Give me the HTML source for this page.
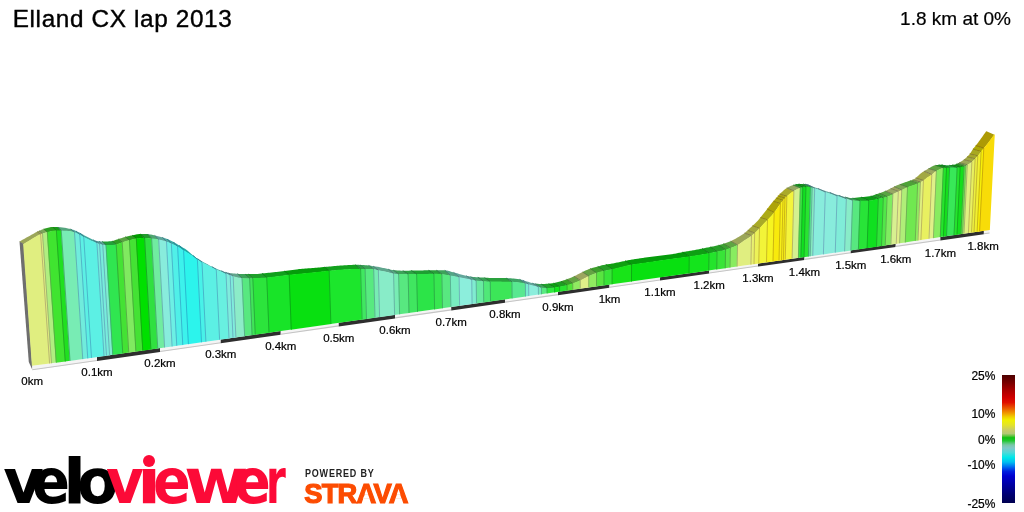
<!DOCTYPE html>
<html><head><meta charset="utf-8"><title>Elland CX lap 2013</title>
<style>
html,body{margin:0;padding:0;background:#fff;}
body{width:1024px;height:512px;position:relative;overflow:hidden;font-family:"Liberation Sans",sans-serif;color:#000;}
.prof{position:absolute;left:0;top:0;}
#title{position:absolute;left:12.7px;top:3.8px;font-size:24.3px;letter-spacing:0.65px;line-height:30px;white-space:nowrap;color:#000;-webkit-text-stroke:0.4px #000;}
#stat{position:absolute;right:13px;top:6.7px;font-size:19px;line-height:24px;white-space:nowrap;color:#000;-webkit-text-stroke:0.2px #000;}
#legend{position:absolute;left:1002px;top:375px;width:13px;height:128px;background:linear-gradient(to bottom,#4c0000 0.0%,#780000 5.9%,#a80000 11.7%,#d00000 17.6%,#e01000 21.5%,#e85000 25.4%,#f09000 29.3%,#f0d000 32.8%,#f0f000 35.2%,#e4e428 39.0%,#c8cc68 43.0%,#b4c874 45.7%,#60c440 47.6%,#10c010 49.0%,#20c830 51.4%,#50c870 53.0%,#78c8a8 54.7%,#80c8c8 57.0%,#50d8d8 60.5%,#00e8e8 64.3%,#00c0f0 68.0%,#0070f0 71.6%,#0020e0 75.2%,#0000d0 78.9%,#0000a0 86.2%,#000070 93.6%,#000050 100.0%);}
.lg{position:absolute;right:28.6px;font-size:12px;line-height:14px;white-space:nowrap;color:#000;-webkit-text-stroke:0.2px #000;}
#vv{position:absolute;left:0;top:446.3px;font-family:"DejaVu Sans",sans-serif;font-weight:bold;font-size:62px;line-height:72px;white-space:nowrap;color:#000;}
#vv span{display:inline-block;transform-origin:0 0;}
#pb{position:absolute;left:305.2px;top:466.5px;font-size:10px;line-height:14px;font-weight:bold;letter-spacing:0.9px;color:#222;white-space:nowrap;transform-origin:0 0;transform:scaleX(0.9);}
#st{position:absolute;left:304.3px;top:479.3px;font-size:27.3px;line-height:30px;font-weight:bold;letter-spacing:-0.8px;color:#fc4c02;white-space:nowrap;-webkit-text-stroke:1.2px #fc4c02;}
</style></head><body>
<svg class="prof" width="1024" height="512" viewBox="0 0 1024 512">
<g><polygon points="23.49,244.34 24.00,244.03 25.00,243.43 26.00,242.82 27.00,242.22 28.00,241.63 29.00,241.03 30.00,240.44 31.00,239.85 32.00,239.25 33.00,238.62 34.00,238.00 35.00,237.39 36.00,236.79 37.00,236.23 38.00,235.72 39.00,235.26 40.00,234.83 40.60,234.59 37.46,231.75 37.00,231.80 36.00,232.32 35.00,232.86 34.00,233.42 33.00,233.99 32.00,234.55 31.00,235.11 30.00,235.66 29.00,236.21 28.00,236.76 27.00,237.31 26.00,237.86 25.00,238.42 24.00,238.98 23.00,239.53 22.00,240.09 21.00,240.65 20.00,241.22 19.15,241.50" fill="#9ca659"/><polygon points="40.60,234.59 41.00,234.43 42.00,234.04 42.49,233.86 39.35,230.86 38.00,231.32 36.76,231.75" fill="#9ca659"/><polygon points="42.49,233.86 43.00,233.68 44.00,233.34 45.00,233.03 46.00,232.75 47.00,232.50 47.27,232.44 44.10,228.93 43.00,229.19 42.00,229.57 41.00,229.98 40.00,230.41 39.00,230.86 38.65,230.86" fill="#7ba659"/><polygon points="47.27,232.44 48.00,232.27 49.00,232.03 50.00,231.79 51.00,231.57 52.00,231.38 53.00,231.21 54.00,231.09 55.00,231.02 56.00,231.00 56.40,231.00 53.19,227.00 52.00,227.00 51.00,227.05 50.00,227.18 49.00,227.39 48.00,227.64 47.00,227.94 46.00,228.24 45.00,228.55 44.00,228.85 43.40,228.93" fill="#2c9f21"/><polygon points="56.40,231.00 57.00,231.00 58.00,231.00 59.00,231.00 60.00,231.00 61.00,231.00 61.28,231.00 58.04,227.01 57.00,227.00 56.00,227.00 55.00,227.00 54.00,227.00 53.00,227.00 52.49,227.00" fill="#169c16"/><polygon points="61.28,231.00 62.00,231.02 63.00,231.05 64.00,231.09 65.00,231.14 66.00,231.20 67.00,231.27 68.00,231.35 69.00,231.46 70.00,231.59 71.00,231.73 72.00,231.90 73.00,232.13 74.00,232.45 74.46,232.62 71.16,229.08 70.00,228.87 69.00,228.63 68.00,228.40 67.00,228.19 66.00,227.99 65.00,227.82 64.00,227.66 63.00,227.52 62.00,227.40 61.00,227.29 60.00,227.18 59.00,227.09 58.00,227.02 57.34,227.01" fill="#54a57d"/><polygon points="74.46,232.62 75.00,232.84 76.00,233.27 77.00,233.73 78.00,234.19 79.00,234.66 79.75,235.04 76.42,230.97 76.00,230.94 75.00,230.49 74.00,230.08 73.00,229.71 72.00,229.40 71.00,229.13 70.46,229.08" fill="#4ea59a"/><polygon points="79.75,235.04 80.00,235.18 81.00,235.73 82.00,236.31 83.00,236.88 83.74,237.29 80.39,232.91 80.00,232.89 79.00,232.37 78.00,231.88 77.00,231.41 75.72,230.97" fill="#40a89f"/><polygon points="83.74,237.29 84.00,237.44 85.00,237.96 86.00,238.48 87.00,238.99 88.00,239.50 89.00,239.99 90.00,240.46 91.00,240.91 92.00,241.34 93.00,241.76 94.00,242.17 95.00,242.56 96.00,242.94 96.92,243.27 93.51,239.78 93.00,239.70 92.00,239.20 91.00,238.71 90.00,238.25 89.00,237.77 88.00,237.26 87.00,236.73 86.00,236.20 85.00,235.66 84.00,235.13 83.00,234.58 82.00,234.01 81.00,233.44 79.69,232.91" fill="#40a89f"/><polygon points="96.92,243.27 97.00,243.30 98.00,243.66 99.00,244.02 99.54,244.20 96.11,240.85 95.00,240.60 94.00,240.18 92.81,239.78" fill="#54a59a"/><polygon points="99.54,244.20 100.00,244.36 101.00,244.66 102.00,244.90 102.76,245.07 99.32,241.28 98.00,241.20 97.00,241.10 96.00,240.92 95.41,240.85" fill="#54a59a"/><polygon points="102.76,245.07 103.00,245.12 104.00,245.32 105.00,245.46 106.00,245.50 106.01,245.50 102.56,241.40 102.00,241.40 101.00,241.39 100.00,241.34 99.00,241.28 98.62,241.28" fill="#59a591"/><polygon points="106.01,245.50 107.00,245.50 108.00,245.50 109.00,245.50 110.00,245.50 111.00,245.50 112.00,245.45 113.00,245.34 114.00,245.20 115.00,245.03 116.00,244.85 116.20,244.81 112.69,241.06 112.00,241.10 111.00,241.20 110.00,241.28 109.00,241.34 108.00,241.38 107.00,241.40 106.00,241.40 105.00,241.40 104.00,241.40 103.00,241.40 101.86,241.40" fill="#21a138"/><polygon points="116.20,244.81 117.00,244.60 118.00,244.26 119.00,243.87 120.00,243.46 121.00,243.06 122.00,242.70 122.21,242.63 118.67,239.07 118.00,239.18 117.00,239.50 116.00,239.86 115.00,240.25 114.00,240.62 113.00,240.92 111.99,241.06" fill="#2f9e24"/><polygon points="122.21,242.63 123.00,242.38 124.00,242.06 125.00,241.75 126.00,241.45 127.00,241.16 128.00,240.87 129.00,240.59 129.39,240.48 125.82,236.83 125.00,236.97 124.00,237.28 123.00,237.59 122.00,237.90 121.00,238.21 120.00,238.53 119.00,238.85 117.97,239.07" fill="#59a343"/><polygon points="129.39,240.48 130.00,240.31 131.00,240.04 132.00,239.80 133.00,239.56 134.00,239.32 135.00,239.10 136.00,238.92 136.31,238.88 132.70,235.33 132.00,235.40 131.00,235.58 130.00,235.75 129.00,235.94 128.00,236.16 127.00,236.40 126.00,236.68 125.12,236.83" fill="#2f9e24"/><polygon points="136.31,238.88 137.00,238.80 138.00,238.71 139.00,238.64 140.00,238.56 141.00,238.50 142.00,238.46 143.00,238.42 144.00,238.40 144.62,238.40 140.97,234.10 140.00,234.10 139.00,234.11 138.00,234.19 137.00,234.34 136.00,234.53 135.00,234.75 134.00,234.98 133.00,235.20 132.00,235.33" fill="#009c00"/><polygon points="144.62,238.40 145.00,238.40 146.00,238.43 147.00,238.48 148.00,238.54 149.00,238.62 150.00,238.71 151.00,238.81 151.64,238.87 147.97,234.12 147.00,234.10 146.00,234.10 145.00,234.10 144.00,234.10 143.00,234.10 142.00,234.10 141.00,234.10 140.27,234.10" fill="#219c2c"/><polygon points="151.64,238.87 152.00,238.90 153.00,239.00 154.00,239.12 155.00,239.26 156.00,239.41 157.00,239.58 158.00,239.75 158.70,239.88 154.99,235.43 154.00,235.29 153.00,235.07 152.00,234.84 151.00,234.61 150.00,234.41 149.00,234.25 148.00,234.14 147.27,234.12" fill="#4ea570"/><polygon points="158.70,239.88 159.00,239.94 160.00,240.15 161.00,240.38 162.00,240.63 163.00,240.89 164.00,241.17 165.00,241.47 166.00,241.78 166.47,241.94 162.72,237.36 162.00,237.25 161.00,236.97 160.00,236.69 159.00,236.43 158.00,236.18 157.00,235.95 156.00,235.72 155.00,235.50 154.29,235.43" fill="#5fa59a"/><polygon points="166.47,241.94 167.00,242.12 168.00,242.50 169.00,242.90 170.00,243.32 171.00,243.76 171.33,243.90 167.55,238.98 167.00,238.90 166.00,238.54 165.00,238.19 164.00,237.86 163.00,237.55 162.02,237.36" fill="#4ba89f"/><polygon points="171.33,243.90 172.00,244.20 173.00,244.65 174.00,245.12 175.00,245.61 176.00,246.11 177.00,246.63 177.61,246.95 173.80,242.02 173.00,241.77 172.00,241.23 171.00,240.70 170.00,240.19 169.00,239.72 168.00,239.30 166.85,238.98" fill="#38a8a2"/><polygon points="177.61,246.95 178.00,247.16 179.00,247.72 180.00,248.30 181.00,248.90 182.00,249.52 183.00,250.15 183.56,250.51 179.72,245.46 179.00,245.23 178.00,244.63 177.00,244.03 176.00,243.45 175.00,242.88 174.00,242.32 173.10,242.02" fill="#2aa9a5"/><polygon points="183.56,250.51 184.00,250.78 185.00,251.42 186.00,252.05 187.00,252.69 188.00,253.34 189.00,254.00 190.00,254.66 191.00,255.32 192.00,256.00 193.00,256.70 194.00,257.42 195.00,258.16 196.00,258.89 197.00,259.59 197.38,259.84 193.47,255.49 193.00,255.40 192.00,254.60 191.00,253.75 190.00,252.82 189.00,251.89 188.00,251.00 187.00,250.20 186.00,249.50 185.00,248.84 184.00,248.23 183.00,247.63 182.00,247.04 181.00,246.45 180.00,245.84 179.02,245.46" fill="#1eaaa5"/><polygon points="197.38,259.84 198.00,260.24 199.00,260.85 200.00,261.42 201.00,261.97 201.98,262.49 198.06,258.85 197.00,258.37 196.00,257.67 195.00,256.94 194.00,256.18 192.77,255.49" fill="#32a9a2"/><polygon points="201.98,262.49 202.00,262.50 203.00,263.02 204.00,263.54 205.00,264.06 206.00,264.58 207.00,265.10 208.00,265.61 209.00,266.12 210.00,266.62 211.00,267.13 212.00,267.63 213.00,268.14 214.00,268.64 215.00,269.13 216.00,269.62 216.26,269.75 212.27,266.67 211.00,266.19 210.00,265.67 209.00,265.13 208.00,264.59 207.00,264.05 206.00,263.51 205.00,262.97 204.00,262.43 203.00,261.90 202.00,261.37 201.00,260.82 200.00,260.26 199.00,259.67 198.00,259.04 197.36,258.85" fill="#40a89f"/><polygon points="216.26,269.75 217.00,270.10 218.00,270.57 219.00,271.04 220.00,271.50 221.00,271.95 222.00,272.39 223.00,272.80 224.00,273.19 225.00,273.55 226.00,273.89 226.00,273.90 221.96,270.85 221.00,270.61 220.00,270.21 219.00,269.81 218.00,269.40 217.00,269.00 216.00,268.59 215.00,268.15 214.00,267.69 213.00,267.21 212.00,266.71 211.57,266.67" fill="#48a89c"/><polygon points="226.00,273.90 227.00,274.23 228.00,274.57 229.00,274.92 230.00,275.29 230.13,275.34 226.06,272.28 225.00,272.06 224.00,271.73 223.00,271.38 222.00,271.00 221.26,270.85" fill="#59a59a"/><polygon points="230.13,275.34 231.00,275.70 232.00,276.11 233.00,276.51 233.13,276.56 229.05,272.98 228.00,272.85 227.00,272.62 226.00,272.36 225.36,272.28" fill="#59a59a"/><polygon points="233.13,276.56 234.00,276.85 235.00,277.13 236.00,277.39 237.00,277.64 238.00,277.88 239.00,278.08 240.00,278.26 241.00,278.40 242.00,278.50 242.04,278.50 237.91,273.80 237.00,273.75 236.00,273.68 235.00,273.60 234.00,273.53 233.00,273.46 232.00,273.37 231.00,273.27 230.00,273.16 229.00,273.03 228.35,272.98" fill="#62a58c"/><polygon points="242.04,278.50 243.00,278.57 244.00,278.64 245.00,278.70 246.00,278.75 247.00,278.78 248.00,278.80 249.00,278.79 249.65,278.77 245.49,274.10 245.00,274.10 244.00,274.10 243.00,274.10 242.00,274.10 241.00,274.08 240.00,274.01 239.00,273.93 238.00,273.84 237.21,273.80" fill="#3da259"/><polygon points="249.65,278.77 250.00,278.76 251.00,278.71 252.00,278.65 252.83,278.59 248.66,274.10 248.00,274.10 247.00,274.10 246.00,274.10 244.79,274.10" fill="#2c9f3d"/><polygon points="252.83,278.59 253.00,278.58 254.00,278.52 255.00,278.48 256.00,278.44 257.00,278.40 258.00,278.36 259.00,278.33 260.00,278.29 261.00,278.26 262.00,278.22 263.00,278.18 264.00,278.13 265.00,278.08 266.00,278.02 266.74,277.98 262.50,273.46 262.00,273.48 261.00,273.60 260.00,273.71 259.00,273.82 258.00,273.92 257.00,274.00 256.00,274.06 255.00,274.10 254.00,274.10 253.00,274.10 252.00,274.10 251.00,274.10 250.00,274.10 249.00,274.10 247.96,274.10" fill="#1e9f2a"/><polygon points="266.74,277.98 267.00,277.96 268.00,277.87 269.00,277.77 270.00,277.65 271.00,277.52 272.00,277.39 273.00,277.25 274.00,277.11 275.00,276.96 276.00,276.83 277.00,276.70 278.00,276.58 279.00,276.45 280.00,276.32 281.00,276.19 282.00,276.07 283.00,275.94 284.00,275.81 285.00,275.68 286.00,275.56 287.00,275.44 288.00,275.32 289.00,275.21 289.16,275.19 284.81,271.02 284.00,271.08 283.00,271.20 282.00,271.32 281.00,271.44 280.00,271.56 279.00,271.67 278.00,271.79 277.00,271.90 276.00,272.01 275.00,272.12 274.00,272.23 273.00,272.34 272.00,272.44 271.00,272.55 270.00,272.65 269.00,272.75 268.00,272.86 267.00,272.96 266.00,273.05 265.00,273.15 264.00,273.25 263.00,273.36 261.80,273.46" fill="#109f1c"/><polygon points="289.16,275.19 290.00,275.10 291.00,274.99 292.00,274.88 293.00,274.78 294.00,274.68 295.00,274.58 296.00,274.48 297.00,274.39 298.00,274.29 299.00,274.19 300.00,274.10 301.00,274.00 302.00,273.90 303.00,273.80 304.00,273.70 305.00,273.60 306.00,273.50 307.00,273.40 308.00,273.30 309.00,273.20 310.00,273.10 311.00,273.00 312.00,272.90 313.00,272.80 314.00,272.70 315.00,272.60 316.00,272.50 317.00,272.39 318.00,272.28 319.00,272.18 320.00,272.07 321.00,271.96 322.00,271.86 323.00,271.75 324.00,271.64 325.00,271.54 326.00,271.44 327.00,271.34 328.00,271.24 329.00,271.14 329.15,271.13 324.60,267.01 324.00,267.03 323.00,267.12 322.00,267.22 321.00,267.32 320.00,267.41 319.00,267.50 318.00,267.60 317.00,267.69 316.00,267.77 315.00,267.86 314.00,267.94 313.00,268.01 312.00,268.09 311.00,268.15 310.00,268.22 309.00,268.28 308.00,268.35 307.00,268.41 306.00,268.48 305.00,268.55 304.00,268.63 303.00,268.71 302.00,268.80 301.00,268.90 300.00,269.01 299.00,269.12 298.00,269.25 297.00,269.38 296.00,269.52 295.00,269.65 294.00,269.79 293.00,269.93 292.00,270.07 291.00,270.21 290.00,270.34 289.00,270.46 288.00,270.59 287.00,270.71 286.00,270.83 285.00,270.96 284.11,271.02" fill="#059c0b"/><polygon points="329.15,271.13 330.00,271.04 331.00,270.95 332.00,270.85 333.00,270.75 334.00,270.65 335.00,270.55 336.00,270.45 337.00,270.36 338.00,270.27 339.00,270.19 340.00,270.11 341.00,270.04 342.00,269.97 343.00,269.91 344.00,269.86 345.00,269.81 346.00,269.76 347.00,269.71 348.00,269.66 349.00,269.61 350.00,269.56 351.00,269.52 352.00,269.48 353.00,269.44 354.00,269.41 355.00,269.38 356.00,269.35 357.00,269.33 358.00,269.31 359.00,269.30 360.00,269.30 360.64,269.30 355.93,264.80 355.00,264.80 354.00,264.82 353.00,264.85 352.00,264.88 351.00,264.93 350.00,264.98 349.00,265.03 348.00,265.10 347.00,265.16 346.00,265.22 345.00,265.29 344.00,265.35 343.00,265.42 342.00,265.48 341.00,265.55 340.00,265.62 339.00,265.70 338.00,265.78 337.00,265.86 336.00,265.95 335.00,266.03 334.00,266.12 333.00,266.21 332.00,266.30 331.00,266.40 330.00,266.49 329.00,266.58 328.00,266.66 327.00,266.75 326.00,266.84 325.00,266.94 323.90,267.01" fill="#13a11e"/><polygon points="360.64,269.30 361.00,269.30 362.00,269.30 363.00,269.30 364.00,269.30 365.00,269.30 365.08,269.30 360.36,264.89 360.00,264.89 359.00,264.85 358.00,264.83 357.00,264.81 356.00,264.80 355.23,264.80" fill="#2ca243"/><polygon points="365.08,269.30 366.00,269.30 367.00,269.30 368.00,269.30 369.00,269.30 370.00,269.30 371.00,269.30 372.00,269.30 373.00,269.36 373.68,269.47 368.91,265.43 368.00,265.38 367.00,265.30 366.00,265.23 365.00,265.16 364.00,265.09 363.00,265.03 362.00,264.98 361.00,264.93 359.66,264.89" fill="#3da359"/><polygon points="373.68,269.47 374.00,269.53 375.00,269.76 376.00,270.03 377.00,270.31 378.00,270.55 378.35,270.62 373.56,266.17 373.00,266.14 372.00,265.96 371.00,265.78 370.00,265.61 369.00,265.47 368.21,265.43" fill="#54a57d"/><polygon points="378.35,270.62 379.00,270.74 380.00,270.93 381.00,271.11 382.00,271.28 383.00,271.46 384.00,271.65 385.00,271.84 386.00,272.06 387.00,272.30 388.00,272.58 389.00,272.87 390.00,273.16 391.00,273.43 392.00,273.67 393.00,273.86 393.58,273.95 388.72,269.11 388.00,269.03 387.00,268.80 386.00,268.58 385.00,268.35 384.00,268.12 383.00,267.89 382.00,267.66 381.00,267.44 380.00,267.23 379.00,267.03 378.00,266.86 377.00,266.71 376.00,266.57 375.00,266.44 374.00,266.30 372.86,266.17" fill="#5fa58c"/><polygon points="393.58,273.95 394.00,274.01 395.00,274.16 396.00,274.29 397.00,274.40 398.00,274.48 398.64,274.50 393.75,270.11 393.00,270.07 392.00,269.93 391.00,269.74 390.00,269.51 389.00,269.27 388.02,269.11" fill="#54a57d"/><polygon points="398.64,274.50 399.00,274.50 400.00,274.50 401.00,274.50 402.00,274.50 403.00,274.50 404.00,274.50 405.00,274.50 406.00,274.50 407.00,274.50 408.00,274.50 408.11,274.50 403.18,270.70 402.00,270.69 401.00,270.66 400.00,270.62 399.00,270.57 398.00,270.50 397.00,270.43 396.00,270.35 395.00,270.26 394.00,270.17 393.05,270.11" fill="#3da259"/><polygon points="408.11,274.50 409.00,274.50 410.00,274.50 411.00,274.50 412.00,274.50 413.00,274.50 414.00,274.50 415.00,274.50 416.00,274.50 416.68,274.50 411.71,270.58 411.00,270.59 410.00,270.61 409.00,270.63 408.00,270.65 407.00,270.67 406.00,270.68 405.00,270.69 404.00,270.70 403.00,270.70 402.48,270.70" fill="#2ca143"/><polygon points="416.68,274.50 417.00,274.50 418.00,274.50 419.00,274.49 420.00,274.48 421.00,274.46 422.00,274.44 423.00,274.42 424.00,274.39 425.00,274.37 426.00,274.34 427.00,274.32 428.00,274.29 429.00,274.27 430.00,274.25 431.00,274.23 432.00,274.22 433.00,274.21 433.91,274.20 428.85,270.29 428.00,270.30 427.00,270.31 426.00,270.33 425.00,270.34 424.00,270.36 423.00,270.38 422.00,270.39 421.00,270.41 420.00,270.43 419.00,270.45 418.00,270.46 417.00,270.48 416.00,270.50 415.00,270.51 414.00,270.53 413.00,270.55 412.00,270.57 411.01,270.58" fill="#1e9f32"/><polygon points="433.91,274.20 434.00,274.20 435.00,274.20 436.00,274.22 437.00,274.25 438.00,274.30 439.00,274.35 440.00,274.41 441.00,274.47 441.87,274.54 436.77,270.25 436.00,270.25 435.00,270.25 434.00,270.25 433.00,270.25 432.00,270.26 431.00,270.27 430.00,270.27 429.00,270.29 428.15,270.29" fill="#27a138"/><polygon points="441.87,274.54 442.00,274.55 443.00,274.65 444.00,274.78 445.00,274.94 446.00,275.11 447.00,275.29 448.00,275.48 449.00,275.68 450.00,275.86 450.35,275.93 445.21,270.31 444.00,270.30 443.00,270.29 442.00,270.28 441.00,270.27 440.00,270.27 439.00,270.26 438.00,270.26 437.00,270.25 436.07,270.25" fill="#3da259"/><polygon points="450.35,275.93 451.00,276.04 452.00,276.23 453.00,276.42 454.00,276.61 455.00,276.81 456.00,277.02 457.00,277.22 458.00,277.42 459.00,277.62 459.14,277.65 453.95,272.42 453.00,272.26 452.00,271.97 451.00,271.66 450.00,271.35 449.00,271.06 448.00,270.80 447.00,270.58 446.00,270.41 445.00,270.32 444.51,270.31" fill="#54a586"/><polygon points="459.14,277.65 460.00,277.82 461.00,278.02 462.00,278.21 463.00,278.41 464.00,278.61 465.00,278.81 466.00,279.01 467.00,279.21 468.00,279.41 469.00,279.61 470.00,279.82 471.00,280.02 471.75,280.17 466.50,275.69 466.00,275.66 465.00,275.42 464.00,275.18 463.00,274.94 462.00,274.70 461.00,274.44 460.00,274.17 459.00,273.89 458.00,273.61 457.00,273.33 456.00,273.05 455.00,272.78 454.00,272.53 453.25,272.42" fill="#62a69a"/><polygon points="471.75,280.17 472.00,280.23 473.00,280.46 474.00,280.69 475.00,280.89 476.00,281.03 476.18,281.05 470.91,276.63 470.00,276.53 469.00,276.34 468.00,276.12 467.00,275.89 465.80,275.69" fill="#59a591"/><polygon points="476.18,281.05 477.00,281.15 478.00,281.25 479.00,281.34 480.00,281.42 481.00,281.50 482.00,281.57 483.00,281.63 483.47,281.66 478.17,277.28 477.00,277.24 476.00,277.17 475.00,277.10 474.00,277.03 473.00,276.94 472.00,276.83 471.00,276.70 470.21,276.63" fill="#48a370"/><polygon points="483.47,281.66 484.00,281.70 485.00,281.77 486.00,281.84 487.00,281.90 488.00,281.95 489.00,281.99 490.00,282.00 490.26,282.00 484.92,277.64 484.00,277.61 483.00,277.55 482.00,277.50 481.00,277.45 480.00,277.40 479.00,277.35 478.00,277.29 477.47,277.28" fill="#38a254"/><polygon points="490.26,282.00 491.00,282.00 492.00,282.00 493.00,282.00 494.00,282.00 495.00,282.00 496.00,282.00 497.00,282.00 498.00,282.00 499.00,282.01 500.00,282.01 501.00,282.02 502.00,282.03 503.00,282.04 504.00,282.06 505.00,282.07 506.00,282.09 507.00,282.11 508.00,282.12 509.00,282.15 510.00,282.17 511.00,282.19 511.94,282.22 506.50,278.10 506.00,278.10 505.00,278.10 504.00,278.10 503.00,278.10 502.00,278.10 501.00,278.10 500.00,278.10 499.00,278.10 498.00,278.10 497.00,278.10 496.00,278.10 495.00,278.09 494.00,278.08 493.00,278.06 492.00,278.02 491.00,277.98 490.00,277.94 489.00,277.89 488.00,277.84 487.00,277.78 486.00,277.72 485.00,277.67 484.22,277.64" fill="#2aa13d"/><polygon points="511.94,282.22 512.00,282.22 513.00,282.27 514.00,282.33 515.00,282.41 516.00,282.50 517.00,282.60 518.00,282.70 519.00,282.81 520.00,282.93 521.00,283.07 522.00,283.22 523.00,283.40 524.00,283.58 525.00,283.78 525.40,283.86 519.89,279.31 519.00,279.23 518.00,279.09 517.00,278.96 516.00,278.83 515.00,278.71 514.00,278.60 513.00,278.49 512.00,278.40 511.00,278.32 510.00,278.24 509.00,278.19 508.00,278.14 507.00,278.11 505.80,278.10" fill="#3da264"/><polygon points="525.40,283.86 526.00,284.01 527.00,284.28 528.00,284.57 528.66,284.77 523.14,280.13 522.00,279.88 521.00,279.60 520.00,279.38 519.19,279.31" fill="#54a591"/><polygon points="528.66,284.77 529.00,284.86 530.00,285.13 531.00,285.39 532.00,285.64 533.00,285.89 534.00,286.14 535.00,286.39 536.00,286.64 537.00,286.89 538.00,287.14 538.35,287.23 532.78,283.10 532.00,282.99 531.00,282.70 530.00,282.40 529.00,282.09 528.00,281.78 527.00,281.50 526.00,281.21 525.00,280.88 524.00,280.53 523.00,280.20 522.44,280.13" fill="#62a69a"/><polygon points="538.35,287.23 539.00,287.41 540.00,287.70 541.00,287.97 541.46,288.07 535.88,283.68 535.00,283.62 534.00,283.46 533.00,283.25 532.08,283.10" fill="#54a586"/><polygon points="541.46,288.07 542.00,288.15 543.00,288.27 544.00,288.37 545.00,288.45 546.00,288.50 547.00,288.49 547.07,288.49 541.46,283.99 541.00,283.99 540.00,283.96 539.00,283.92 538.00,283.86 537.00,283.79 536.00,283.72 535.18,283.68" fill="#3da359"/><polygon points="547.07,288.49 548.00,288.47 549.00,288.42 550.00,288.35 551.00,288.28 552.00,288.20 553.00,288.11 554.00,287.99 554.58,287.91 548.93,283.68 548.00,283.72 547.00,283.79 546.00,283.85 545.00,283.91 544.00,283.96 543.00,283.99 542.00,284.00 540.76,283.99" fill="#21a22c"/><polygon points="554.58,287.91 555.00,287.86 556.00,287.70 557.00,287.54 558.00,287.36 559.00,287.19 559.58,287.09 553.91,283.07 553.00,283.16 552.00,283.30 551.00,283.43 550.00,283.55 549.00,283.64 548.23,283.68" fill="#0ba210"/><polygon points="559.58,287.09 560.00,287.01 561.00,286.83 562.00,286.63 563.00,286.43 564.00,286.21 565.00,285.99 566.00,285.75 567.00,285.50 567.09,285.48 561.38,281.26 561.00,281.27 560.00,281.56 559.00,281.84 558.00,282.11 557.00,282.37 556.00,282.61 555.00,282.82 554.00,283.00 553.21,283.07" fill="#1c9f21"/><polygon points="567.09,285.48 568.00,285.23 569.00,284.94 570.00,284.63 571.00,284.30 572.00,283.96 572.74,283.71 567.00,279.33 566.00,279.57 565.00,279.93 564.00,280.28 563.00,280.62 562.00,280.95 560.68,281.26" fill="#389f27"/><polygon points="572.74,283.71 573.00,283.62 574.00,283.26 575.00,282.89 576.00,282.51 577.00,282.11 578.00,281.70 579.00,281.28 580.00,280.84 580.24,280.74 574.47,276.27 574.00,276.33 573.00,276.77 572.00,277.20 571.00,277.63 570.00,278.04 569.00,278.44 568.00,278.82 567.00,279.20 566.30,279.33" fill="#64a343"/><polygon points="580.24,280.74 581.00,280.39 582.00,279.89 583.00,279.38 584.00,278.85 585.00,278.31 586.00,277.78 587.00,277.27 588.00,276.78 588.75,276.43 582.94,272.02 582.00,272.30 581.00,272.79 580.00,273.30 579.00,273.83 578.00,274.35 577.00,274.87 576.00,275.38 575.00,275.87 573.77,276.27" fill="#9ca65f"/><polygon points="588.75,276.43 589.00,276.32 590.00,275.87 591.00,275.42 592.00,274.99 593.00,274.56 594.00,274.16 595.00,273.78 596.00,273.43 596.52,273.26 590.66,268.62 590.00,268.73 589.00,269.08 588.00,269.48 587.00,269.91 586.00,270.37 585.00,270.84 584.00,271.33 583.00,271.82 582.24,272.02" fill="#64a343"/><polygon points="596.52,273.26 597.00,273.11 598.00,272.81 599.00,272.52 600.00,272.25 601.00,272.00 602.00,271.75 603.00,271.51 604.00,271.27 604.03,271.26 598.14,266.48 597.00,266.70 596.00,266.97 595.00,267.24 594.00,267.51 593.00,267.79 592.00,268.08 591.00,268.39 589.96,268.62" fill="#3d9f2c"/><polygon points="604.03,271.26 605.00,271.03 606.00,270.81 607.00,270.60 608.00,270.39 609.00,270.19 610.00,269.99 611.00,269.78 612.00,269.57 612.15,269.53 606.22,264.54 605.00,264.70 604.00,264.90 603.00,265.12 602.00,265.36 601.00,265.62 600.00,265.88 599.00,266.15 598.00,266.43 597.44,266.48" fill="#279f27"/><polygon points="612.15,269.53 613.00,269.34 614.00,269.11 615.00,268.88 616.00,268.64 617.00,268.39 618.00,268.14 619.00,267.89 620.00,267.64 621.00,267.39 622.00,267.14 623.00,266.90 624.00,266.65 625.00,266.42 626.00,266.19 627.00,265.96 628.00,265.74 629.00,265.54 630.00,265.34 631.00,265.15 631.60,265.05 625.57,260.87 625.00,260.92 624.00,261.13 623.00,261.34 622.00,261.56 621.00,261.77 620.00,261.99 619.00,262.20 618.00,262.41 617.00,262.62 616.00,262.83 615.00,263.02 614.00,263.22 613.00,263.40 612.00,263.57 611.00,263.73 610.00,263.89 609.00,264.04 608.00,264.19 607.00,264.35 606.00,264.52 605.52,264.54" fill="#109f10"/><polygon points="631.60,265.05 632.00,264.98 633.00,264.81 634.00,264.64 635.00,264.48 636.00,264.32 637.00,264.17 638.00,264.02 639.00,263.88 640.00,263.74 641.00,263.59 642.00,263.45 643.00,263.32 644.00,263.18 645.00,263.04 646.00,262.90 647.00,262.76 648.00,262.62 649.00,262.47 650.00,262.33 651.00,262.18 652.00,262.03 653.00,261.88 654.00,261.74 655.00,261.59 656.00,261.44 657.00,261.30 658.00,261.15 659.00,261.00 660.00,260.86 661.00,260.71 662.00,260.57 663.00,260.42 664.00,260.28 665.00,260.13 666.00,259.99 667.00,259.84 668.00,259.70 669.00,259.56 670.00,259.42 671.00,259.28 672.00,259.14 673.00,259.00 674.00,258.86 675.00,258.73 676.00,258.60 677.00,258.47 678.00,258.34 679.00,258.21 680.00,258.08 681.00,257.95 682.00,257.82 683.00,257.69 684.00,257.56 685.00,257.43 686.00,257.29 687.00,257.16 688.00,257.02 689.00,256.87 689.22,256.84 682.91,252.12 682.00,252.24 681.00,252.44 680.00,252.65 679.00,252.86 678.00,253.07 677.00,253.27 676.00,253.47 675.00,253.66 674.00,253.83 673.00,254.00 672.00,254.16 671.00,254.31 670.00,254.45 669.00,254.59 668.00,254.72 667.00,254.86 666.00,254.98 665.00,255.11 664.00,255.23 663.00,255.35 662.00,255.47 661.00,255.59 660.00,255.71 659.00,255.82 658.00,255.94 657.00,256.06 656.00,256.17 655.00,256.29 654.00,256.42 653.00,256.54 652.00,256.67 651.00,256.80 650.00,256.93 649.00,257.07 648.00,257.21 647.00,257.35 646.00,257.48 645.00,257.62 644.00,257.76 643.00,257.91 642.00,258.05 641.00,258.19 640.00,258.34 639.00,258.49 638.00,258.64 637.00,258.79 636.00,258.94 635.00,259.10 634.00,259.26 633.00,259.42 632.00,259.59 631.00,259.76 630.00,259.93 629.00,260.12 628.00,260.31 627.00,260.50 626.00,260.71 624.87,260.87" fill="#059c0b"/><polygon points="689.22,256.84 690.00,256.73 691.00,256.58 692.00,256.42 693.00,256.27 694.00,256.11 695.00,255.96 696.00,255.79 697.00,255.63 698.00,255.47 699.00,255.30 700.00,255.13 701.00,254.97 702.00,254.80 703.00,254.62 704.00,254.45 705.00,254.28 706.00,254.10 707.00,253.92 708.00,253.74 709.00,253.57 709.02,253.56 702.62,248.59 702.00,248.64 701.00,248.84 700.00,249.03 699.00,249.22 698.00,249.41 697.00,249.60 696.00,249.78 695.00,249.96 694.00,250.13 693.00,250.30 692.00,250.47 691.00,250.64 690.00,250.80 689.00,250.97 688.00,251.14 687.00,251.31 686.00,251.48 685.00,251.66 684.00,251.84 683.00,252.04 682.21,252.12" fill="#0e9f13"/><polygon points="709.02,253.56 710.00,253.38 711.00,253.20 712.00,253.01 713.00,252.82 714.00,252.62 715.00,252.43 716.00,252.23 717.00,252.03 717.05,252.02 710.60,246.94 710.00,247.00 709.00,247.20 708.00,247.41 707.00,247.62 706.00,247.83 705.00,248.03 704.00,248.24 703.00,248.44 701.92,248.59" fill="#199f1e"/><polygon points="717.05,252.02 718.00,251.84 719.00,251.65 720.00,251.46 721.00,251.26 722.00,251.05 723.00,250.83 724.00,250.59 725.00,250.33 725.58,250.16 719.09,245.09 718.00,245.28 717.00,245.51 716.00,245.74 715.00,245.96 714.00,246.17 713.00,246.38 712.00,246.58 711.00,246.79 709.90,246.94" fill="#279f27"/><polygon points="725.58,250.16 726.00,250.02 727.00,249.66 728.00,249.26 729.00,248.84 730.00,248.44 730.36,248.30 723.85,243.75 723.00,243.90 722.00,244.20 721.00,244.49 720.00,244.77 719.00,245.03 718.39,245.09" fill="#3da232"/><polygon points="730.36,248.30 731.00,248.05 732.00,247.68 733.00,247.30 734.00,246.92 735.00,246.51 736.00,246.08 737.00,245.60 737.52,245.33 730.97,241.12 730.00,241.39 729.00,241.81 728.00,242.19 727.00,242.56 726.00,242.92 725.00,243.26 724.00,243.59 723.15,243.75" fill="#5fa543"/><polygon points="737.52,245.33 738.00,245.06 739.00,244.45 740.00,243.79 741.00,243.09 742.00,242.38 743.00,241.67 744.00,240.98 745.00,240.33 746.00,239.70 747.00,239.08 748.00,238.46 749.00,237.82 750.00,237.14 751.00,236.41 751.51,236.02 744.90,233.06 744.00,233.47 743.00,234.17 742.00,234.83 741.00,235.45 740.00,236.06 739.00,236.65 738.00,237.25 737.00,237.84 736.00,238.42 735.00,238.98 734.00,239.50 733.00,240.00 732.00,240.48 731.00,240.95 730.27,241.12" fill="#9ca659"/><polygon points="751.51,236.02 752.00,235.64 753.00,234.82 754.00,233.96 754.67,233.37 748.04,230.32 747.00,230.97 746.00,231.87 745.00,232.71 744.20,233.06" fill="#a2a84e"/><polygon points="754.67,233.37 755.00,233.07 756.00,232.15 757.00,231.21 758.00,230.24 759.00,229.24 759.53,228.68 752.88,225.78 752.00,226.26 751.00,227.17 750.00,228.11 749.00,229.07 748.00,230.03 747.34,230.32" fill="#a5a93d"/><polygon points="759.53,228.68 760.00,228.17 761.00,227.05 762.00,225.91 763.00,224.78 764.00,223.68 765.00,222.64 766.00,221.64 767.00,220.67 767.48,220.20 760.79,217.51 760.00,218.06 759.00,219.26 758.00,220.41 757.00,221.50 756.00,222.53 755.00,223.50 754.00,224.44 753.00,225.35 752.18,225.78" fill="#a9aa27"/><polygon points="767.48,220.20 768.00,219.69 769.00,218.68 770.00,217.61 771.00,216.53 772.00,215.41 773.00,214.25 774.00,213.03 774.17,212.82 767.45,209.03 767.00,209.16 766.00,210.45 765.00,211.74 764.00,213.04 763.00,214.31 762.00,215.57 761.00,216.82 760.09,217.51" fill="#acaa16"/><polygon points="774.17,212.82 775.00,211.73 776.00,210.30 777.00,208.79 778.00,207.28 779.00,205.86 780.00,204.50 780.41,203.95 773.66,201.23 773.00,201.61 772.00,202.85 771.00,204.09 770.00,205.33 769.00,206.60 768.00,207.88 766.75,209.03" fill="#ada308"/><polygon points="780.41,203.95 781.00,203.17 782.00,201.89 783.00,200.69 783.00,200.68 776.23,198.15 775.00,199.18 774.00,200.38 772.96,201.23" fill="#ada810"/><polygon points="783.00,200.68 784.00,199.57 784.96,198.54 778.19,196.00 777.00,196.90 776.00,198.02 775.53,198.15" fill="#ada810"/><polygon points="784.96,198.54 785.00,198.50 786.00,197.48 786.87,196.64 780.08,194.05 779.00,194.79 778.00,195.83 777.49,196.00" fill="#ada810"/><polygon points="786.87,196.64 787.00,196.52 788.00,195.62 789.00,194.77 790.00,193.95 791.00,193.18 792.00,192.46 793.00,191.80 793.89,191.26 787.07,187.97 786.00,188.46 785.00,189.23 784.00,190.09 783.00,190.99 782.00,191.90 781.00,192.82 780.00,193.79 779.38,194.05" fill="#aaaa2a"/><polygon points="793.89,191.26 794.00,191.20 795.00,190.60 796.00,190.04 797.00,189.51 798.00,189.05 799.00,188.66 800.00,188.35 800.30,188.26 793.45,185.04 793.00,185.07 792.00,185.38 791.00,185.76 790.00,186.20 789.00,186.69 788.00,187.23 787.00,187.80 786.37,187.97" fill="#94a864"/><polygon points="800.30,188.26 801.00,188.07 802.00,187.81 802.83,187.63 795.97,184.41 795.00,184.56 794.00,184.81 792.75,185.04" fill="#279f2c"/><polygon points="802.83,187.63 803.00,187.59 804.00,187.42 805.00,187.31 805.96,187.24 799.08,183.92 798.00,183.99 797.00,184.14 796.00,184.33 795.27,184.41" fill="#0b9c16"/><polygon points="805.96,187.24 806.00,187.24 807.00,187.18 808.00,187.13 809.00,187.10 810.00,187.13 810.38,187.18 803.48,183.97 803.00,183.96 802.00,183.93 801.00,183.91 800.00,183.90 799.00,183.91 798.38,183.92" fill="#1c9f21"/><polygon points="810.38,187.18 811.00,187.31 812.00,187.63 812.23,187.71 805.32,184.05 804.00,184.01 802.78,183.97" fill="#3da264"/><polygon points="812.23,187.71 813.00,188.00 814.00,188.37 814.71,188.60 807.79,184.48 807.00,184.34 806.00,184.12 805.00,184.06 804.62,184.05" fill="#5fa586"/><polygon points="814.71,188.60 815.00,188.69 816.00,189.03 817.00,189.37 818.00,189.73 819.00,190.10 820.00,190.48 821.00,190.85 822.00,191.23 823.00,191.60 824.00,191.97 825.00,192.33 825.29,192.43 818.32,188.44 817.00,188.09 816.00,187.74 815.00,187.38 814.00,187.02 813.00,186.64 812.00,186.25 811.00,185.86 810.00,185.50 809.00,185.11 808.00,184.70 807.09,184.48" fill="#5fa59a"/><polygon points="825.29,192.43 826.00,192.67 827.00,193.01 828.00,193.35 829.00,193.68 830.00,194.02 831.00,194.34 832.00,194.67 833.00,195.00 834.00,195.32 835.00,195.64 836.00,195.96 837.00,196.28 837.06,196.30 830.03,192.37 829.00,192.14 828.00,191.81 827.00,191.48 826.00,191.16 825.00,190.83 824.00,190.50 823.00,190.16 822.00,189.82 821.00,189.48 820.00,189.14 819.00,188.80 818.00,188.45 817.62,188.44" fill="#5fa59a"/><polygon points="837.06,196.30 838.00,196.60 839.00,196.92 840.00,197.24 841.00,197.56 842.00,197.88 843.00,198.19 844.00,198.50 845.00,198.80 846.00,199.09 846.34,199.18 839.26,195.35 838.00,195.08 837.00,194.78 836.00,194.47 835.00,194.15 834.00,193.82 833.00,193.49 832.00,193.15 831.00,192.82 830.00,192.48 829.33,192.37" fill="#59a597"/><polygon points="846.34,199.18 847.00,199.37 848.00,199.67 849.00,199.97 850.00,200.25 851.00,200.48 852.00,200.63 852.60,200.71 845.49,196.91 845.00,196.88 844.00,196.63 843.00,196.40 842.00,196.17 841.00,195.92 840.00,195.65 839.00,195.37 838.56,195.35" fill="#5fa58c"/><polygon points="852.60,200.71 853.00,200.75 854.00,200.87 855.00,200.97 856.00,201.06 857.00,201.13 858.00,201.18 859.00,201.20 860.00,201.20 860.09,201.20 852.95,197.99 852.00,198.00 851.00,197.98 850.00,197.90 849.00,197.76 848.00,197.58 847.00,197.36 846.00,197.13 844.79,196.91" fill="#3da259"/><polygon points="860.09,201.20 861.00,201.20 862.00,201.20 863.00,201.20 864.00,201.20 865.00,201.20 866.00,201.19 867.00,201.14 868.00,201.06 868.81,200.97 861.62,197.09 861.00,197.11 860.00,197.21 859.00,197.33 858.00,197.45 857.00,197.58 856.00,197.70 855.00,197.81 854.00,197.90 853.00,197.97 852.25,197.99" fill="#1c9f27"/><polygon points="868.81,200.97 869.00,200.95 870.00,200.83 871.00,200.70 872.00,200.54 873.00,200.34 874.00,200.13 875.00,199.90 876.00,199.68 877.00,199.46 878.00,199.25 878.28,199.20 871.05,196.01 870.00,196.15 869.00,196.32 868.00,196.46 867.00,196.59 866.00,196.70 865.00,196.79 864.00,196.88 863.00,196.95 862.00,197.03 860.92,197.09" fill="#0b9c16"/><polygon points="878.28,199.20 879.00,199.06 880.00,198.87 881.00,198.67 882.00,198.47 883.00,198.24 883.32,198.16 876.07,194.46 875.00,194.71 874.00,195.05 873.00,195.38 872.00,195.68 871.00,195.94 870.35,196.01" fill="#219f27"/><polygon points="883.32,198.16 884.00,198.00 885.00,197.74 886.00,197.45 887.00,197.13 887.12,197.09 879.84,193.19 879.00,193.36 878.00,193.70 877.00,194.03 876.00,194.37 875.37,194.46" fill="#38a232"/><polygon points="887.12,197.09 888.00,196.77 889.00,196.36 890.00,195.91 891.00,195.44 892.00,194.96 892.87,194.55 885.56,191.04 885.00,191.12 884.00,191.53 883.00,191.91 882.00,192.29 881.00,192.66 880.00,193.01 879.14,193.19" fill="#59a543"/><polygon points="892.87,194.55 893.00,194.48 894.00,193.99 895.00,193.47 896.00,192.96 897.00,192.46 898.00,191.99 898.33,191.84 890.99,188.41 890.00,188.75 889.00,189.27 888.00,189.78 887.00,190.26 886.00,190.71 884.86,191.04" fill="#97a864"/><polygon points="898.33,191.84 899.00,191.56 900.00,191.15 901.00,190.72 901.74,190.39 894.39,186.66 894.00,186.68 893.00,187.18 892.00,187.69 891.00,188.22 890.29,188.41" fill="#9ca65f"/><polygon points="901.74,190.39 902.00,190.26 903.00,189.76 904.00,189.24 905.00,188.71 906.00,188.20 907.00,187.74 907.50,187.53 900.13,184.25 899.00,184.55 898.00,184.95 897.00,185.35 896.00,185.77 895.00,186.21 893.69,186.66" fill="#7ba654"/><polygon points="907.50,187.53 908.00,187.33 909.00,186.95 910.00,186.59 911.00,186.25 912.00,185.92 913.00,185.58 914.00,185.24 915.00,184.88 916.00,184.50 917.00,184.09 917.67,183.80 910.24,180.73 909.00,180.99 908.00,181.31 907.00,181.66 906.00,182.01 905.00,182.35 904.00,182.70 903.00,183.05 902.00,183.41 901.00,183.79 900.00,184.17 899.43,184.25" fill="#4ea238"/><polygon points="917.67,183.80 918.00,183.65 919.00,183.19 920.00,182.70 920.48,182.46 913.04,179.80 912.00,180.06 911.00,180.39 910.00,180.69 909.54,180.73" fill="#64a543"/><polygon points="920.48,182.46 921.00,182.20 922.00,181.67 923.00,181.09 923.45,180.79 916.00,177.95 915.00,178.51 914.00,179.20 913.00,179.67 912.34,179.80" fill="#9ca859"/><polygon points="923.45,180.79 924.00,180.40 925.00,179.62 926.00,178.81 927.00,178.02 928.00,177.30 929.00,176.69 930.00,176.12 931.00,175.50 931.82,174.89 924.32,171.17 923.00,171.79 922.00,172.48 921.00,173.26 920.00,174.11 919.00,175.00 918.00,175.90 917.00,176.78 916.00,177.63 915.30,177.95" fill="#a2a843"/><polygon points="931.82,174.89 932.00,174.74 933.00,173.88 934.00,172.99 935.00,172.17 936.00,171.50 936.38,171.28 928.86,168.59 928.00,168.87 927.00,169.42 926.00,169.98 925.00,170.55 924.00,171.15 923.62,171.17" fill="#9ca85f"/><polygon points="936.38,171.28 937.00,170.93 938.00,170.36 939.00,169.82 940.00,169.33 941.00,168.91 942.00,168.58 943.00,168.36 943.38,168.31 935.83,165.29 935.00,165.36 934.00,165.58 933.00,165.97 932.00,166.48 931.00,167.08 930.00,167.70 929.00,168.32 928.16,168.59" fill="#5fa543"/><polygon points="943.38,168.31 944.00,168.26 945.00,168.18 946.00,168.12 946.54,168.09 938.98,164.90 938.00,164.96 937.00,165.07 936.00,165.21 935.13,165.29" fill="#199f1e"/><polygon points="946.54,168.09 947.00,168.07 948.00,168.03 949.00,168.01 949.65,168.00 942.07,164.81 941.00,164.80 940.00,164.82 939.00,164.87 938.28,164.90" fill="#0e9c13"/><polygon points="949.65,168.00 950.00,168.00 951.00,168.00 952.00,168.00 953.00,168.00 954.00,168.00 955.00,168.00 956.00,168.00 957.00,167.99 957.17,167.99 949.55,165.24 949.00,165.24 948.00,165.24 947.00,165.20 946.00,165.13 945.00,165.05 944.00,164.96 943.00,164.88 942.00,164.82 941.37,164.81" fill="#27a23d"/><polygon points="957.17,167.99 958.00,167.94 959.00,167.83 960.00,167.68 960.19,167.65 952.56,164.94 952.00,164.97 951.00,165.10 950.00,165.19 948.85,165.24" fill="#199f1e"/><polygon points="960.19,167.65 961.00,167.50 962.00,167.30 963.00,167.08 964.00,166.78 964.14,166.73 956.49,164.09 956.00,164.15 955.00,164.45 954.00,164.64 953.00,164.82 951.86,164.94" fill="#0e9c13"/><polygon points="964.14,166.73 965.00,166.39 965.78,166.02 958.12,163.36 957.00,163.73 955.79,164.09" fill="#43a238"/><polygon points="965.78,166.02 966.00,165.91 967.00,165.39 967.32,165.22 959.65,162.54 959.00,162.70 958.00,163.24 957.42,163.36" fill="#70a548"/><polygon points="967.32,165.22 968.00,164.84 969.00,164.24 970.00,163.55 971.00,162.80 971.88,162.10 964.19,159.62 963.00,160.24 962.00,160.94 961.00,161.58 960.00,162.16 958.95,162.54" fill="#9ca859"/><polygon points="971.88,162.10 972.00,162.00 973.00,161.16 974.00,160.24 975.00,159.25 975.14,159.11 967.43,156.82 967.00,156.90 966.00,157.83 965.00,158.70 964.00,159.49 963.49,159.62" fill="#a2a843"/><polygon points="975.14,159.11 976.00,158.20 977.00,157.08 977.79,156.15 970.07,153.94 969.00,154.78 968.00,155.88 966.73,156.82" fill="#a5a82c"/><polygon points="977.79,156.15 978.00,155.89 979.00,154.64 980.00,153.35 981.00,152.05 981.11,151.91 973.37,149.07 973.00,149.10 972.00,150.59 971.00,152.15 970.00,153.59 969.37,153.94" fill="#a8a821"/><polygon points="981.11,151.91 982.00,150.76 983.00,149.50 983.79,148.53 976.04,145.57 975.00,146.45 974.00,147.75 972.67,149.07" fill="#ada805"/><polygon points="983.79,148.53 984.00,148.27 985.00,147.05 986.00,145.82 987.00,144.57 988.00,143.30 989.00,141.99 990.00,140.67 991.00,139.32 992.00,137.96 993.00,136.57 994.00,135.16 994.43,134.80 986.45,131.30 986.00,131.45 985.00,132.92 984.00,134.37 983.00,135.80 982.00,137.21 981.00,138.60 980.00,139.98 979.00,141.34 978.00,142.65 977.00,143.92 976.00,145.18 975.34,145.57" fill="#ad9a05"/></g>
<polygon points="23.79,243.94 19.50,241.50 28.80,362.10 32.55,370.24" fill="#6e6e6e"/>
<g><polygon points="32.25,365.66 97.00,357.00 97.00,360.99 32.25,370.24" fill="#f4f4f4"/><polygon points="32.25,369.14 97.00,359.89 97.00,360.99 32.25,370.24" fill="#c4c4c4"/><polygon points="97.00,357.00 160.00,348.09 160.00,351.99 97.00,360.99" fill="#2e2e2e"/><polygon points="160.00,348.09 220.75,339.49 220.75,343.31 160.00,351.99" fill="#f4f4f4"/><polygon points="160.00,350.89 220.75,342.21 220.75,343.31 160.00,351.99" fill="#c4c4c4"/><polygon points="220.75,339.49 280.75,331.01 280.75,334.74 220.75,343.31" fill="#2e2e2e"/><polygon points="280.75,331.01 338.75,322.80 338.75,326.45 280.75,334.74" fill="#f4f4f4"/><polygon points="280.75,333.64 338.75,325.35 338.75,326.45 280.75,334.74" fill="#c4c4c4"/><polygon points="338.75,322.80 395.00,314.84 395.00,318.41 338.75,326.45" fill="#2e2e2e"/><polygon points="395.00,314.84 451.25,306.88 451.25,310.38 395.00,318.41" fill="#f4f4f4"/><polygon points="395.00,317.31 451.25,309.28 451.25,310.38 395.00,318.41" fill="#c4c4c4"/><polygon points="451.25,306.88 505.00,299.28 505.00,302.70 451.25,310.38" fill="#2e2e2e"/><polygon points="505.00,299.28 558.00,291.78 558.00,295.13 505.00,302.70" fill="#f4f4f4"/><polygon points="505.00,301.60 558.00,294.03 558.00,295.13 505.00,302.70" fill="#c4c4c4"/><polygon points="558.00,291.78 609.50,284.50 609.50,287.77 558.00,295.13" fill="#2e2e2e"/><polygon points="609.50,284.50 660.00,277.35 660.00,280.56 609.50,287.77" fill="#f4f4f4"/><polygon points="609.50,286.67 660.00,279.46 660.00,280.56 609.50,287.77" fill="#c4c4c4"/><polygon points="660.00,277.35 709.25,270.38 709.25,273.52 660.00,280.56" fill="#2e2e2e"/><polygon points="709.25,270.38 758.00,263.49 758.00,266.56 709.25,273.52" fill="#f4f4f4"/><polygon points="709.25,272.42 758.00,265.46 758.00,266.56 709.25,273.52" fill="#c4c4c4"/><polygon points="758.00,263.49 804.50,256.91 804.50,259.91 758.00,266.56" fill="#2e2e2e"/><polygon points="804.50,256.91 850.75,250.37 850.75,253.30 804.50,259.91" fill="#f4f4f4"/><polygon points="804.50,258.81 850.75,252.20 850.75,253.30 804.50,259.91" fill="#c4c4c4"/><polygon points="850.75,250.37 895.75,243.80 895.75,246.88 850.75,253.30" fill="#2e2e2e"/><polygon points="895.75,243.80 940.40,236.93 940.40,240.50 895.75,246.88" fill="#f4f4f4"/><polygon points="895.75,245.78 940.40,239.40 940.40,240.50 895.75,246.88" fill="#c4c4c4"/><polygon points="940.40,236.93 983.90,230.78 983.90,234.28 940.40,240.50" fill="#2e2e2e"/><polygon points="983.90,230.78 989.50,229.99 989.50,233.48 983.90,234.28" fill="#f4f4f4"/><polygon points="983.90,233.18 989.50,232.38 989.50,233.48 983.90,234.28" fill="#c4c4c4"/></g>
<g><polygon points="31.90,365.81 49.95,363.44 40.95,234.19 40.00,234.43 39.00,234.86 38.00,235.32 37.00,235.83 36.00,236.39 35.00,236.99 34.00,237.60 33.00,238.22 32.00,238.85 31.00,239.45 30.00,240.04 29.00,240.63 28.00,241.23 27.00,241.82 26.00,242.42 25.00,243.03 24.00,243.63 23.14,243.94" fill="#e0ee80"/><polygon points="49.25,363.54 51.85,363.20 42.84,233.46 42.00,233.64 41.00,234.03 40.25,234.19" fill="#e0ee80"/><polygon points="51.15,363.29 56.60,362.59 47.62,232.04 47.00,232.10 46.00,232.35 45.00,232.63 44.00,232.94 43.00,233.28 42.14,233.46" fill="#b0ee80"/><polygon points="55.90,362.68 65.60,361.43 56.75,230.60 56.00,230.60 55.00,230.62 54.00,230.69 53.00,230.81 52.00,230.98 51.00,231.17 50.00,231.39 49.00,231.63 48.00,231.87 46.92,232.04" fill="#40e430"/><polygon points="64.90,361.52 70.35,360.81 61.63,230.60 61.00,230.60 60.00,230.60 59.00,230.60 58.00,230.60 57.00,230.60 56.05,230.60" fill="#20e020"/><polygon points="69.65,360.90 83.10,359.07 74.81,232.22 74.00,232.05 73.00,231.73 72.00,231.50 71.00,231.33 70.00,231.19 69.00,231.06 68.00,230.95 67.00,230.87 66.00,230.80 65.00,230.74 64.00,230.69 63.00,230.65 62.00,230.62 60.93,230.60" fill="#78ecb4"/><polygon points="82.40,359.17 88.10,358.36 80.10,234.64 79.00,234.26 78.00,233.79 77.00,233.33 76.00,232.87 75.00,232.44 74.11,232.22" fill="#70ecdc"/><polygon points="87.40,358.46 91.85,357.83 84.09,236.89 83.00,236.48 82.00,235.91 81.00,235.33 80.00,234.78 79.40,234.64" fill="#5cf0e4"/><polygon points="91.15,357.93 104.35,356.06 97.27,242.87 96.00,242.54 95.00,242.16 94.00,241.77 93.00,241.36 92.00,240.94 91.00,240.51 90.00,240.06 89.00,239.59 88.00,239.10 87.00,238.59 86.00,238.08 85.00,237.56 84.00,237.04 83.39,236.89" fill="#5cf0e4"/><polygon points="103.65,356.16 106.85,355.71 99.89,243.80 99.00,243.62 98.00,243.26 97.00,242.90 96.57,242.87" fill="#78ecdc"/><polygon points="106.15,355.81 109.95,355.27 103.11,244.67 102.00,244.50 101.00,244.26 100.00,243.96 99.19,243.80" fill="#78ecdc"/><polygon points="109.25,355.37 113.10,354.82 106.36,245.10 106.00,245.10 105.00,245.06 104.00,244.92 103.00,244.72 102.41,244.67" fill="#80ecd0"/><polygon points="112.40,354.92 123.10,353.41 116.55,244.41 116.00,244.45 115.00,244.63 114.00,244.80 113.00,244.94 112.00,245.05 111.00,245.10 110.00,245.10 109.00,245.10 108.00,245.10 107.00,245.10 105.66,245.10" fill="#30e650"/><polygon points="122.40,353.51 129.10,352.56 122.56,242.23 122.00,242.30 121.00,242.66 120.00,243.06 119.00,243.47 118.00,243.86 117.00,244.20 115.85,244.41" fill="#44e234"/><polygon points="128.40,352.66 136.25,351.55 129.74,240.08 129.00,240.19 128.00,240.47 127.00,240.76 126.00,241.05 125.00,241.35 124.00,241.66 123.00,241.98 121.86,242.23" fill="#80ea60"/><polygon points="135.55,351.65 143.10,350.58 136.66,238.48 136.00,238.52 135.00,238.70 134.00,238.92 133.00,239.16 132.00,239.40 131.00,239.64 130.00,239.91 129.04,240.08" fill="#44e234"/><polygon points="142.40,350.68 151.25,349.43 144.97,238.00 144.00,238.00 143.00,238.02 142.00,238.06 141.00,238.10 140.00,238.16 139.00,238.24 138.00,238.31 137.00,238.40 135.96,238.48" fill="#00e000"/><polygon points="150.55,349.53 158.10,348.46 151.99,238.47 151.00,238.41 150.00,238.31 149.00,238.22 148.00,238.14 147.00,238.08 146.00,238.03 145.00,238.00 144.27,238.00" fill="#30e040"/><polygon points="157.40,348.56 164.95,347.49 159.05,239.48 158.00,239.35 157.00,239.18 156.00,239.01 155.00,238.86 154.00,238.72 153.00,238.60 152.00,238.50 151.29,238.47" fill="#70eca0"/><polygon points="164.25,347.59 172.45,346.43 166.82,241.54 166.00,241.38 165.00,241.07 164.00,240.77 163.00,240.49 162.00,240.23 161.00,239.98 160.00,239.75 159.00,239.54 158.35,239.48" fill="#88ecdc"/><polygon points="171.75,346.53 177.10,345.77 171.68,243.50 171.00,243.36 170.00,242.92 169.00,242.50 168.00,242.10 167.00,241.72 166.12,241.54" fill="#6cf0e4"/><polygon points="176.40,345.87 183.10,344.92 177.96,246.55 177.00,246.23 176.00,245.71 175.00,245.21 174.00,244.72 173.00,244.25 172.00,243.80 170.98,243.50" fill="#50f0e8"/><polygon points="182.40,345.02 188.75,344.12 183.91,250.11 183.00,249.75 182.00,249.12 181.00,248.50 180.00,247.90 179.00,247.32 178.00,246.76 177.26,246.55" fill="#3cf2ec"/><polygon points="188.05,344.22 201.85,342.27 197.73,259.44 197.00,259.19 196.00,258.49 195.00,257.76 194.00,257.02 193.00,256.30 192.00,255.60 191.00,254.92 190.00,254.26 189.00,253.60 188.00,252.94 187.00,252.29 186.00,251.65 185.00,251.02 184.00,250.38 183.21,250.11" fill="#2cf4ec"/><polygon points="201.15,342.37 206.25,341.65 202.33,262.09 201.00,261.57 200.00,261.02 199.00,260.45 198.00,259.84 197.03,259.44" fill="#48f2e8"/><polygon points="205.55,341.74 219.95,339.71 216.61,269.35 216.00,269.22 215.00,268.73 214.00,268.24 213.00,267.74 212.00,267.23 211.00,266.73 210.00,266.22 209.00,265.72 208.00,265.21 207.00,264.70 206.00,264.18 205.00,263.66 204.00,263.14 203.00,262.62 202.00,262.10 201.63,262.09" fill="#5cf0e4"/><polygon points="219.25,339.81 229.35,338.38 226.35,273.50 226.00,273.49 225.00,273.15 224.00,272.79 223.00,272.40 222.00,271.99 221.00,271.55 220.00,271.10 219.00,270.64 218.00,270.17 217.00,269.70 215.91,269.35" fill="#68f0e0"/><polygon points="228.65,338.48 233.35,337.81 230.48,274.94 230.00,274.89 229.00,274.52 228.00,274.17 227.00,273.83 225.65,273.50" fill="#80ecdc"/><polygon points="232.65,337.91 236.25,337.40 233.48,276.16 233.00,276.11 232.00,275.71 231.00,275.30 229.78,274.94" fill="#80ecdc"/><polygon points="235.55,337.50 244.95,336.17 242.39,278.10 242.00,278.10 241.00,278.00 240.00,277.86 239.00,277.68 238.00,277.48 237.00,277.24 236.00,276.99 235.00,276.73 234.00,276.45 232.78,276.16" fill="#8cecc8"/><polygon points="244.25,336.27 252.45,335.11 250.00,278.37 249.00,278.39 248.00,278.40 247.00,278.38 246.00,278.35 245.00,278.30 244.00,278.24 243.00,278.17 241.69,278.10" fill="#58e880"/><polygon points="251.75,335.21 255.60,334.66 253.18,278.19 252.00,278.25 251.00,278.31 250.00,278.36 249.30,278.37" fill="#40e458"/><polygon points="254.90,334.76 269.35,332.72 267.09,277.58 266.00,277.62 265.00,277.68 264.00,277.73 263.00,277.78 262.00,277.82 261.00,277.86 260.00,277.89 259.00,277.93 258.00,277.96 257.00,278.00 256.00,278.04 255.00,278.08 254.00,278.12 253.00,278.18 252.48,278.19" fill="#2ce43c"/><polygon points="268.65,332.82 291.60,329.57 289.51,274.79 289.00,274.81 288.00,274.92 287.00,275.04 286.00,275.16 285.00,275.28 284.00,275.41 283.00,275.54 282.00,275.67 281.00,275.79 280.00,275.92 279.00,276.05 278.00,276.18 277.00,276.30 276.00,276.43 275.00,276.56 274.00,276.71 273.00,276.85 272.00,276.99 271.00,277.12 270.00,277.25 269.00,277.37 268.00,277.47 267.00,277.56 266.39,277.58" fill="#18e428"/><polygon points="290.90,329.67 331.25,323.96 329.50,270.73 329.00,270.74 328.00,270.84 327.00,270.94 326.00,271.04 325.00,271.14 324.00,271.24 323.00,271.35 322.00,271.46 321.00,271.56 320.00,271.67 319.00,271.78 318.00,271.88 317.00,271.99 316.00,272.10 315.00,272.20 314.00,272.30 313.00,272.40 312.00,272.50 311.00,272.60 310.00,272.70 309.00,272.80 308.00,272.90 307.00,273.00 306.00,273.10 305.00,273.20 304.00,273.30 303.00,273.40 302.00,273.50 301.00,273.60 300.00,273.70 299.00,273.79 298.00,273.89 297.00,273.99 296.00,274.08 295.00,274.18 294.00,274.28 293.00,274.38 292.00,274.48 291.00,274.59 290.00,274.70 288.81,274.79" fill="#08e010"/><polygon points="330.55,324.06 362.45,319.55 360.99,268.90 360.00,268.90 359.00,268.90 358.00,268.91 357.00,268.93 356.00,268.95 355.00,268.98 354.00,269.01 353.00,269.04 352.00,269.08 351.00,269.12 350.00,269.16 349.00,269.21 348.00,269.26 347.00,269.31 346.00,269.36 345.00,269.41 344.00,269.46 343.00,269.51 342.00,269.57 341.00,269.64 340.00,269.71 339.00,269.79 338.00,269.87 337.00,269.96 336.00,270.05 335.00,270.15 334.00,270.25 333.00,270.35 332.00,270.45 331.00,270.55 330.00,270.64 328.80,270.73" fill="#1ce62c"/><polygon points="361.75,319.65 366.85,318.93 365.43,268.90 365.00,268.90 364.00,268.90 363.00,268.90 362.00,268.90 361.00,268.90 360.29,268.90" fill="#40e860"/><polygon points="366.15,319.02 375.35,317.72 374.03,269.07 373.00,268.96 372.00,268.90 371.00,268.90 370.00,268.90 369.00,268.90 368.00,268.90 367.00,268.90 366.00,268.90 364.73,268.90" fill="#58ea80"/><polygon points="374.65,317.82 379.95,317.07 378.70,270.22 378.00,270.15 377.00,269.91 376.00,269.63 375.00,269.36 374.00,269.13 373.33,269.07" fill="#78ecb4"/><polygon points="379.25,317.17 394.95,314.95 393.93,273.55 393.00,273.46 392.00,273.27 391.00,273.03 390.00,272.76 389.00,272.47 388.00,272.18 387.00,271.90 386.00,271.66 385.00,271.44 384.00,271.25 383.00,271.06 382.00,270.88 381.00,270.71 380.00,270.53 379.00,270.34 378.00,270.22" fill="#88ecc8"/><polygon points="394.25,315.05 399.95,314.24 398.99,274.10 398.00,274.08 397.00,274.00 396.00,273.89 395.00,273.76 394.00,273.61 393.23,273.55" fill="#78ecb4"/><polygon points="399.25,314.34 409.35,312.91 408.46,274.10 408.00,274.10 407.00,274.10 406.00,274.10 405.00,274.10 404.00,274.10 403.00,274.10 402.00,274.10 401.00,274.10 400.00,274.10 399.00,274.10 398.29,274.10" fill="#58e880"/><polygon points="408.65,313.01 417.85,311.71 417.03,274.10 416.00,274.10 415.00,274.10 414.00,274.10 413.00,274.10 412.00,274.10 411.00,274.10 410.00,274.10 409.00,274.10 407.76,274.10" fill="#40e660"/><polygon points="417.15,311.81 434.95,309.29 434.26,273.80 433.00,273.81 432.00,273.82 431.00,273.83 430.00,273.85 429.00,273.87 428.00,273.89 427.00,273.92 426.00,273.94 425.00,273.97 424.00,273.99 423.00,274.02 422.00,274.04 421.00,274.06 420.00,274.08 419.00,274.09 418.00,274.10 417.00,274.10 416.33,274.10" fill="#2ce448"/><polygon points="434.25,309.39 442.85,308.17 442.22,274.14 441.00,274.07 440.00,274.01 439.00,273.95 438.00,273.90 437.00,273.85 436.00,273.82 435.00,273.80 434.00,273.80 433.56,273.80" fill="#38e650"/><polygon points="442.15,308.27 451.25,306.98 450.70,275.53 450.00,275.46 449.00,275.28 448.00,275.08 447.00,274.89 446.00,274.71 445.00,274.54 444.00,274.38 443.00,274.25 442.00,274.15 441.52,274.14" fill="#58e880"/><polygon points="450.55,307.08 459.95,305.75 459.49,277.25 459.00,277.22 458.00,277.02 457.00,276.82 456.00,276.62 455.00,276.41 454.00,276.21 453.00,276.02 452.00,275.83 451.00,275.64 450.00,275.53" fill="#78ecc0"/><polygon points="459.25,305.85 472.45,303.99 472.10,279.77 471.00,279.62 470.00,279.42 469.00,279.21 468.00,279.01 467.00,278.81 466.00,278.61 465.00,278.41 464.00,278.21 463.00,278.01 462.00,277.81 461.00,277.62 460.00,277.42 458.79,277.25" fill="#8ceedc"/><polygon points="471.75,304.08 476.85,303.36 476.53,280.65 476.00,280.63 475.00,280.49 474.00,280.29 473.00,280.06 472.00,279.83 471.40,279.77" fill="#80ecd0"/><polygon points="476.15,303.46 484.10,302.34 483.82,281.26 483.00,281.23 482.00,281.17 481.00,281.10 480.00,281.02 479.00,280.94 478.00,280.85 477.00,280.75 475.83,280.65" fill="#68eaa0"/><polygon points="483.40,302.44 490.85,301.38 490.61,281.60 490.00,281.60 489.00,281.59 488.00,281.55 487.00,281.50 486.00,281.44 485.00,281.37 484.00,281.30 483.12,281.26" fill="#50e878"/><polygon points="490.15,301.48 512.45,298.33 512.29,281.82 511.00,281.79 510.00,281.77 509.00,281.75 508.00,281.72 507.00,281.71 506.00,281.69 505.00,281.67 504.00,281.66 503.00,281.64 502.00,281.63 501.00,281.62 500.00,281.61 499.00,281.61 498.00,281.60 497.00,281.60 496.00,281.60 495.00,281.60 494.00,281.60 493.00,281.60 492.00,281.60 491.00,281.60 489.91,281.60" fill="#3ce658"/><polygon points="511.75,298.43 525.85,296.43 525.75,283.46 525.00,283.38 524.00,283.18 523.00,283.00 522.00,282.82 521.00,282.67 520.00,282.53 519.00,282.41 518.00,282.30 517.00,282.20 516.00,282.10 515.00,282.01 514.00,281.93 513.00,281.87 512.00,281.82 511.59,281.82" fill="#58e890"/><polygon points="525.15,296.53 529.10,295.97 529.01,284.37 528.00,284.17 527.00,283.88 526.00,283.61 525.05,283.46" fill="#78ecd0"/><polygon points="528.40,296.07 538.75,294.61 538.70,286.83 538.00,286.74 537.00,286.49 536.00,286.24 535.00,285.99 534.00,285.74 533.00,285.49 532.00,285.24 531.00,284.99 530.00,284.73 529.00,284.46 528.31,284.37" fill="#8ceedc"/><polygon points="538.05,294.70 541.85,294.17 541.81,287.67 541.00,287.57 540.00,287.30 539.00,287.01 538.00,286.83" fill="#78ecc0"/><polygon points="541.15,294.27 547.45,293.37 547.42,288.09 547.00,288.09 546.00,288.10 545.00,288.05 544.00,287.97 543.00,287.87 542.00,287.75 541.11,287.67" fill="#58ea80"/><polygon points="546.75,293.47 554.95,292.31 554.93,287.51 554.00,287.59 553.00,287.71 552.00,287.80 551.00,287.88 550.00,287.95 549.00,288.02 548.00,288.07 546.72,288.09" fill="#30e840"/><polygon points="554.25,292.41 559.95,291.61 559.93,286.69 559.00,286.79 558.00,286.96 557.00,287.14 556.00,287.30 555.00,287.46 554.23,287.51" fill="#10e818"/><polygon points="559.25,291.71 567.45,290.55 567.44,285.08 567.00,285.10 566.00,285.35 565.00,285.59 564.00,285.81 563.00,286.03 562.00,286.23 561.00,286.43 560.00,286.61 559.23,286.69" fill="#28e430"/><polygon points="566.75,290.64 573.10,289.75 573.09,283.31 572.00,283.56 571.00,283.90 570.00,284.23 569.00,284.54 568.00,284.83 566.74,285.08" fill="#50e438"/><polygon points="572.40,289.85 580.60,288.69 580.59,280.34 580.00,280.44 579.00,280.88 578.00,281.30 577.00,281.71 576.00,282.11 575.00,282.49 574.00,282.86 573.00,283.22 572.39,283.31" fill="#90ea60"/><polygon points="579.90,288.78 589.10,287.48 589.10,276.03 588.00,276.38 587.00,276.87 586.00,277.38 585.00,277.91 584.00,278.45 583.00,278.98 582.00,279.49 581.00,279.99 579.89,280.34" fill="#e0ee88"/><polygon points="588.40,287.58 596.85,286.39 596.87,272.86 596.00,273.03 595.00,273.38 594.00,273.76 593.00,274.16 592.00,274.59 591.00,275.02 590.00,275.47 589.00,275.92 588.40,276.03" fill="#90ea60"/><polygon points="596.15,286.49 604.35,285.33 604.38,270.86 604.00,270.87 603.00,271.11 602.00,271.35 601.00,271.60 600.00,271.85 599.00,272.12 598.00,272.41 597.00,272.71 596.17,272.86" fill="#58e440"/><polygon points="603.65,285.42 612.45,284.18 612.50,269.13 612.00,269.17 611.00,269.38 610.00,269.59 609.00,269.79 608.00,269.99 607.00,270.20 606.00,270.41 605.00,270.63 603.68,270.86" fill="#38e438"/><polygon points="611.75,284.28 631.85,281.43 631.95,264.65 631.00,264.75 630.00,264.94 629.00,265.14 628.00,265.34 627.00,265.56 626.00,265.79 625.00,266.02 624.00,266.25 623.00,266.50 622.00,266.74 621.00,266.99 620.00,267.24 619.00,267.49 618.00,267.74 617.00,267.99 616.00,268.24 615.00,268.48 614.00,268.71 613.00,268.94 611.80,269.13" fill="#18e418"/><polygon points="631.15,281.53 689.35,273.30 689.57,256.44 689.00,256.47 688.00,256.62 687.00,256.76 686.00,256.89 685.00,257.03 684.00,257.16 683.00,257.29 682.00,257.42 681.00,257.55 680.00,257.68 679.00,257.81 678.00,257.94 677.00,258.07 676.00,258.20 675.00,258.33 674.00,258.46 673.00,258.60 672.00,258.74 671.00,258.88 670.00,259.02 669.00,259.16 668.00,259.30 667.00,259.44 666.00,259.59 665.00,259.73 664.00,259.88 663.00,260.02 662.00,260.17 661.00,260.31 660.00,260.46 659.00,260.60 658.00,260.75 657.00,260.90 656.00,261.04 655.00,261.19 654.00,261.34 653.00,261.48 652.00,261.63 651.00,261.78 650.00,261.93 649.00,262.07 648.00,262.22 647.00,262.36 646.00,262.50 645.00,262.64 644.00,262.78 643.00,262.92 642.00,263.05 641.00,263.19 640.00,263.34 639.00,263.48 638.00,263.62 637.00,263.77 636.00,263.92 635.00,264.08 634.00,264.24 633.00,264.41 632.00,264.58 631.25,264.65" fill="#08e010"/><polygon points="688.65,273.40 709.10,270.51 709.37,253.16 709.00,253.17 708.00,253.34 707.00,253.52 706.00,253.70 705.00,253.88 704.00,254.05 703.00,254.22 702.00,254.40 701.00,254.57 700.00,254.73 699.00,254.90 698.00,255.07 697.00,255.23 696.00,255.39 695.00,255.56 694.00,255.71 693.00,255.87 692.00,256.02 691.00,256.18 690.00,256.33 688.87,256.44" fill="#14e41c"/><polygon points="708.40,270.60 717.10,269.37 717.40,251.62 717.00,251.63 716.00,251.83 715.00,252.03 714.00,252.22 713.00,252.42 712.00,252.61 711.00,252.80 710.00,252.98 708.67,253.16" fill="#24e42c"/><polygon points="716.40,269.47 725.60,268.17 725.93,249.76 725.00,249.93 724.00,250.19 723.00,250.43 722.00,250.65 721.00,250.86 720.00,251.06 719.00,251.25 718.00,251.44 716.70,251.62" fill="#38e438"/><polygon points="724.90,268.27 730.35,267.50 730.71,247.90 730.00,248.04 729.00,248.44 728.00,248.86 727.00,249.26 726.00,249.62 725.23,249.76" fill="#58e848"/><polygon points="729.65,267.60 737.45,266.49 737.87,244.93 737.00,245.20 736.00,245.68 735.00,246.11 734.00,246.52 733.00,246.90 732.00,247.28 731.00,247.65 730.01,247.90" fill="#88ec60"/><polygon points="736.75,266.59 751.25,264.54 751.86,235.62 751.00,236.01 750.00,236.74 749.00,237.42 748.00,238.06 747.00,238.68 746.00,239.30 745.00,239.93 744.00,240.58 743.00,241.27 742.00,241.98 741.00,242.69 740.00,243.39 739.00,244.05 738.00,244.66 737.17,244.93" fill="#e0ee80"/><polygon points="750.55,264.64 754.35,264.10 755.02,232.97 754.00,233.56 753.00,234.42 752.00,235.24 751.16,235.62" fill="#e8f070"/><polygon points="753.65,264.20 759.10,263.43 759.88,228.28 759.00,228.84 758.00,229.84 757.00,230.81 756.00,231.75 755.00,232.67 754.32,232.97" fill="#ecf258"/><polygon points="758.40,263.53 766.85,262.34 767.83,219.80 767.00,220.27 766.00,221.24 765.00,222.24 764.00,223.28 763.00,224.38 762.00,225.51 761.00,226.65 760.00,227.77 759.18,228.28" fill="#f2f438"/><polygon points="766.15,262.43 773.35,261.42 774.52,212.42 774.00,212.63 773.00,213.85 772.00,215.01 771.00,216.13 770.00,217.21 769.00,218.28 768.00,219.29 767.13,219.80" fill="#f6f420"/><polygon points="772.65,261.52 779.35,260.57 780.76,203.55 780.00,204.10 779.00,205.46 778.00,206.88 777.00,208.39 776.00,209.90 775.00,211.33 773.82,212.42" fill="#f8ea0c"/><polygon points="778.65,260.67 781.85,260.21 783.35,200.28 783.00,200.29 782.00,201.49 781.00,202.77 780.06,203.55" fill="#f8f018"/><polygon points="781.15,260.31 783.75,259.94 785.31,198.14 784.00,199.17 782.65,200.28" fill="#f8f018"/><polygon points="783.05,260.04 785.60,259.68 787.22,196.24 786.00,197.08 785.00,198.10 784.61,198.14" fill="#f8f018"/><polygon points="784.90,259.78 792.45,258.71 794.24,190.86 793.00,191.40 792.00,192.06 791.00,192.78 790.00,193.55 789.00,194.37 788.00,195.22 787.00,196.12 786.52,196.24" fill="#f4f43c"/><polygon points="791.75,258.81 798.75,257.82 800.65,187.86 800.00,187.95 799.00,188.26 798.00,188.65 797.00,189.11 796.00,189.64 795.00,190.20 794.00,190.80 793.54,190.86" fill="#d4f090"/><polygon points="798.05,257.92 801.25,257.47 803.18,187.23 802.00,187.41 801.00,187.67 799.95,187.86" fill="#38e440"/><polygon points="800.55,257.57 804.35,257.03 806.31,186.84 805.00,186.91 804.00,187.02 803.00,187.19 802.48,187.23" fill="#10e020"/><polygon points="803.65,257.13 808.75,256.41 810.73,186.78 810.00,186.73 809.00,186.70 808.00,186.73 807.00,186.78 806.00,186.84 805.61,186.84" fill="#28e430"/><polygon points="808.05,256.51 810.60,256.15 812.58,187.31 812.00,187.23 811.00,186.91 810.03,186.78" fill="#58e890"/><polygon points="809.90,256.25 813.10,255.79 815.06,188.20 814.00,187.97 813.00,187.60 811.88,187.31" fill="#88ecc0"/><polygon points="812.40,255.89 823.75,254.29 825.64,192.03 825.00,191.93 824.00,191.57 823.00,191.20 822.00,190.83 821.00,190.45 820.00,190.08 819.00,189.70 818.00,189.33 817.00,188.97 816.00,188.63 815.00,188.29 814.36,188.20" fill="#88ecdc"/><polygon points="823.05,254.38 835.60,252.61 837.41,195.90 837.00,195.88 836.00,195.56 835.00,195.24 834.00,194.92 833.00,194.60 832.00,194.27 831.00,193.94 830.00,193.62 829.00,193.28 828.00,192.95 827.00,192.61 826.00,192.27 824.94,192.03" fill="#88ecdc"/><polygon points="834.90,252.71 844.95,251.29 846.69,198.78 846.00,198.69 845.00,198.40 844.00,198.10 843.00,197.79 842.00,197.48 841.00,197.16 840.00,196.84 839.00,196.52 838.00,196.20 836.71,195.90" fill="#80ecd8"/><polygon points="844.25,251.39 851.25,250.40 852.95,200.31 852.00,200.23 851.00,200.08 850.00,199.85 849.00,199.57 848.00,199.27 847.00,198.97 845.99,198.78" fill="#88ecc8"/><polygon points="850.55,250.49 858.75,249.33 860.44,200.80 860.00,200.80 859.00,200.80 858.00,200.78 857.00,200.73 856.00,200.66 855.00,200.57 854.00,200.47 853.00,200.35 852.25,200.31" fill="#58e880"/><polygon points="858.05,249.43 867.45,248.10 869.16,200.57 868.00,200.66 867.00,200.74 866.00,200.79 865.00,200.80 864.00,200.80 863.00,200.80 862.00,200.80 861.00,200.80 859.74,200.80" fill="#28e438"/><polygon points="866.75,248.20 876.85,246.77 878.63,198.80 878.00,198.85 877.00,199.06 876.00,199.28 875.00,199.50 874.00,199.73 873.00,199.94 872.00,200.14 871.00,200.30 870.00,200.43 869.00,200.55 868.46,200.57" fill="#10e020"/><polygon points="876.15,246.87 881.85,246.04 883.67,197.76 883.00,197.84 882.00,198.07 881.00,198.27 880.00,198.47 879.00,198.66 877.93,198.80" fill="#30e438"/><polygon points="881.15,246.15 885.60,245.47 887.47,196.69 887.00,196.73 886.00,197.05 885.00,197.34 884.00,197.60 882.97,197.76" fill="#50e848"/><polygon points="884.90,245.57 891.25,244.60 893.22,194.15 892.00,194.56 891.00,195.04 890.00,195.51 889.00,195.96 888.00,196.37 886.77,196.69" fill="#80ec60"/><polygon points="890.55,244.70 896.60,243.77 898.68,191.44 898.00,191.59 897.00,192.06 896.00,192.56 895.00,193.07 894.00,193.59 893.00,194.08 892.52,194.15" fill="#d8f090"/><polygon points="895.90,243.88 899.95,243.26 902.09,189.99 901.00,190.32 900.00,190.75 899.00,191.16 897.98,191.44" fill="#e0ee88"/><polygon points="899.25,243.36 905.60,242.39 907.85,187.13 907.00,187.34 906.00,187.80 905.00,188.31 904.00,188.84 903.00,189.36 902.00,189.86 901.39,189.99" fill="#b0ee78"/><polygon points="904.90,242.49 915.60,240.85 918.02,183.40 917.00,183.69 916.00,184.10 915.00,184.48 914.00,184.84 913.00,185.18 912.00,185.52 911.00,185.85 910.00,186.19 909.00,186.55 908.00,186.93 907.15,187.13" fill="#70e850"/><polygon points="914.90,240.95 918.35,240.42 920.83,182.06 920.00,182.30 919.00,182.79 918.00,183.25 917.32,183.40" fill="#90ec60"/><polygon points="917.65,240.53 921.25,239.98 923.80,180.39 923.00,180.69 922.00,181.27 921.00,181.80 920.13,182.06" fill="#e0f080"/><polygon points="920.55,240.08 929.35,238.73 932.17,174.49 931.00,175.10 930.00,175.72 929.00,176.29 928.00,176.90 927.00,177.62 926.00,178.41 925.00,179.22 924.00,180.00 923.10,180.39" fill="#e8f060"/><polygon points="928.65,238.84 933.75,238.05 936.73,170.88 936.00,171.10 935.00,171.77 934.00,172.59 933.00,173.48 932.00,174.34 931.47,174.49" fill="#e0f088"/><polygon points="933.05,238.16 940.60,237.00 943.73,167.91 943.00,167.96 942.00,168.18 941.00,168.51 940.00,168.93 939.00,169.42 938.00,169.96 937.00,170.53 936.03,170.88" fill="#88ec60"/><polygon points="939.90,237.10 943.75,236.56 946.89,167.69 946.00,167.72 945.00,167.78 944.00,167.86 943.03,167.91" fill="#24e42c"/><polygon points="943.05,236.66 946.85,236.12 950.00,167.60 949.00,167.61 948.00,167.63 947.00,167.67 946.19,167.69" fill="#14e01c"/><polygon points="946.15,236.22 954.35,235.06 957.52,167.59 957.00,167.59 956.00,167.60 955.00,167.60 954.00,167.60 953.00,167.60 952.00,167.60 951.00,167.60 950.00,167.60 949.30,167.60" fill="#38e858"/><polygon points="953.65,235.16 957.35,234.63 960.54,167.25 960.00,167.28 959.00,167.43 958.00,167.54 956.82,167.59" fill="#24e42c"/><polygon points="956.65,234.73 961.25,234.08 964.49,166.33 964.00,166.38 963.00,166.68 962.00,166.90 961.00,167.10 959.84,167.25" fill="#14e01c"/><polygon points="960.55,234.18 962.85,233.86 966.13,165.62 965.00,165.99 963.79,166.33" fill="#60e850"/><polygon points="962.15,233.96 964.35,233.64 967.67,164.82 967.00,164.99 966.00,165.51 965.43,165.62" fill="#a0ec68"/><polygon points="963.65,233.74 968.75,233.02 972.23,161.70 971.00,162.40 970.00,163.15 969.00,163.84 968.00,164.44 966.97,164.82" fill="#e0f080"/><polygon points="968.05,233.12 971.85,232.58 975.49,158.71 975.00,158.85 974.00,159.84 973.00,160.76 972.00,161.60 971.53,161.70" fill="#e8f060"/><polygon points="971.15,232.68 974.35,232.23 978.14,155.75 977.00,156.68 976.00,157.80 974.79,158.71" fill="#ecf040"/><polygon points="973.65,232.33 977.45,231.79 981.46,151.51 981.00,151.65 980.00,152.95 979.00,154.24 978.00,155.49 977.44,155.75" fill="#f0f030"/><polygon points="976.75,231.89 979.95,231.44 984.14,148.13 983.00,149.10 982.00,150.36 980.76,151.51" fill="#f8f008"/><polygon points="979.25,231.54 989.85,230.04 994.78,134.40 994.00,134.76 993.00,136.17 992.00,137.56 991.00,138.92 990.00,140.27 989.00,141.59 988.00,142.90 987.00,144.17 986.00,145.42 985.00,146.65 984.00,147.87 983.44,148.13" fill="#f8dc08"/></g>
<g fill="none" stroke-width="0.9" stroke-opacity="0.85"><path d="M49.60 363.39 L40.60 234.19" stroke="#aca46c"/><path d="M40.60 234.19 L37.11 231.75" stroke="#78724c"/><path d="M51.50 363.14 L42.49 233.46" stroke="#9aa46c"/><path d="M42.49 233.46 L39.00 230.86" stroke="#6b724c"/><path d="M56.25 362.53 L47.27 232.04" stroke="#5ca04a"/><path d="M47.27 232.04 L43.75 228.93" stroke="#407034"/><path d="M65.25 361.37 L56.40 230.60" stroke="#249b22"/><path d="M56.40 230.60 L52.84 227.00" stroke="#196d17"/><path d="M70.00 360.76 L61.28 230.60" stroke="#3a9e5a"/><path d="M61.28 230.60 L57.69 227.01" stroke="#286f3f"/><path d="M82.75 359.02 L74.46 232.22" stroke="#59a2aa"/><path d="M74.46 232.22 L70.81 229.08" stroke="#3e7176"/><path d="M87.75 358.31 L79.75 234.64" stroke="#4ea4be"/><path d="M79.75 234.64 L76.07 230.97" stroke="#367285"/><path d="M91.50 357.78 L83.74 236.89" stroke="#46a5c1"/><path d="M83.74 236.89 L80.04 232.91" stroke="#317387"/><path d="M104.00 356.01 L96.92 242.87" stroke="#51a4be"/><path d="M96.92 242.87 L93.16 239.78" stroke="#397285"/><path d="M106.50 355.66 L99.54 243.80" stroke="#5ca2bb"/><path d="M99.54 243.80 L95.76 240.85" stroke="#407182"/><path d="M109.60 355.22 L102.76 244.67" stroke="#5fa2b5"/><path d="M102.76 244.67 L98.97 241.28" stroke="#42717f"/><path d="M112.75 354.77 L106.01 245.10" stroke="#43a07a"/><path d="M106.01 245.10 L102.21 241.40" stroke="#2f7055"/><path d="M122.75 353.36 L116.20 244.41" stroke="#2c9d38"/><path d="M116.20 244.41 L112.34 241.06" stroke="#1f6e27"/><path d="M128.75 352.51 L122.21 242.23" stroke="#4b9e3e"/><path d="M122.21 242.23 L118.32 239.07" stroke="#346f2c"/><path d="M135.90 351.50 L129.39 240.08" stroke="#4b9e3e"/><path d="M129.39 240.08 L125.47 236.83" stroke="#346f2c"/><path d="M142.75 350.53 L136.31 238.48" stroke="#1a9b16"/><path d="M136.31 238.48 L132.35 235.33" stroke="#126c0f"/><path d="M150.90 349.38 L144.62 238.00" stroke="#129a1b"/><path d="M144.62 238.00 L140.62 234.10" stroke="#0c6c13"/><path d="M157.75 348.41 L151.64 238.47" stroke="#3d9e5f"/><path d="M151.64 238.47 L147.62 234.12" stroke="#2b6f42"/><path d="M164.60 347.44 L158.70 239.48" stroke="#5fa2a1"/><path d="M158.70 239.48 L154.64 235.43" stroke="#427171"/><path d="M172.10 346.38 L166.47 241.54" stroke="#5da4be"/><path d="M166.47 241.54 L162.37 237.36" stroke="#417285"/><path d="M176.75 345.72 L171.33 243.50" stroke="#48a5c3"/><path d="M171.33 243.50 L167.20 238.98" stroke="#327388"/><path d="M182.75 344.87 L177.61 246.55" stroke="#35a6c6"/><path d="M177.61 246.55 L173.45 242.02" stroke="#25748b"/><path d="M188.40 344.07 L183.56 250.11" stroke="#28a7c8"/><path d="M183.56 250.11 L179.37 245.46" stroke="#1c758c"/><path d="M201.50 342.22 L197.38 259.44" stroke="#2ca7c6"/><path d="M197.38 259.44 L193.12 255.49" stroke="#1f758b"/><path d="M205.90 341.60 L201.98 262.09" stroke="#3fa6c3"/><path d="M201.98 262.09 L197.71 258.85" stroke="#2c7488"/><path d="M219.60 339.66 L216.26 269.35" stroke="#4ba5c0"/><path d="M216.26 269.35 L211.92 266.67" stroke="#347386"/><path d="M229.00 338.33 L226.00 273.50" stroke="#59a4bc"/><path d="M226.00 273.50 L221.61 270.85" stroke="#3e7284"/><path d="M233.00 337.76 L230.13 274.94" stroke="#62a2bb"/><path d="M230.13 274.94 L225.71 272.28" stroke="#447182"/><path d="M235.90 337.35 L233.13 276.16" stroke="#67a2b2"/><path d="M233.13 276.16 L228.70 272.98" stroke="#48717c"/><path d="M244.60 336.12 L242.04 278.10" stroke="#57a18b"/><path d="M242.04 278.10 L237.56 273.80" stroke="#3d7161"/><path d="M252.10 335.06 L249.65 278.37" stroke="#3a9e5b"/><path d="M249.65 278.37 L245.14 274.10" stroke="#286f40"/><path d="M255.25 334.61 L252.83 278.19" stroke="#299d3e"/><path d="M252.83 278.19 L248.31 274.10" stroke="#1d6e2c"/><path d="M269.00 332.67 L266.74 277.58" stroke="#1a9d2a"/><path d="M266.74 277.58 L262.15 273.46" stroke="#126e1d"/><path d="M291.25 329.52 L289.16 274.79" stroke="#0c9b17"/><path d="M289.16 274.79 L284.46 271.02" stroke="#086d10"/><path d="M330.90 323.91 L329.15 270.73" stroke="#0d9c19"/><path d="M329.15 270.73 L324.25 267.01" stroke="#096d11"/><path d="M362.10 319.50 L360.64 268.90" stroke="#239f3b"/><path d="M360.64 268.90 L355.58 264.80" stroke="#186f29"/><path d="M366.50 318.87 L365.08 268.90" stroke="#3aa05f"/><path d="M365.08 268.90 L360.01 264.89" stroke="#287042"/><path d="M375.00 317.67 L373.68 269.07" stroke="#50a282"/><path d="M373.68 269.07 L368.56 265.43" stroke="#38715b"/><path d="M379.60 317.02 L378.35 270.22" stroke="#62a2a1"/><path d="M378.35 270.22 L373.21 266.17" stroke="#447171"/><path d="M394.60 314.90 L393.58 273.55" stroke="#62a2a1"/><path d="M393.58 273.55 L388.37 269.11" stroke="#447171"/><path d="M399.60 314.19 L398.64 274.10" stroke="#50a182"/><path d="M398.64 274.10 L393.40 270.11" stroke="#38715b"/><path d="M409.00 312.86 L408.11 274.10" stroke="#3a9f5f"/><path d="M408.11 274.10 L402.83 270.70" stroke="#286f42"/><path d="M417.50 311.66 L416.68 274.10" stroke="#299e47"/><path d="M416.68 274.10 L411.36 270.58" stroke="#1d6e31"/><path d="M434.60 309.24 L433.91 273.80" stroke="#269e40"/><path d="M433.91 273.80 L428.50 270.29" stroke="#1a6e2d"/><path d="M442.50 308.12 L441.87 274.14" stroke="#379f58"/><path d="M441.87 274.14 L436.42 270.25" stroke="#266f3d"/><path d="M450.90 306.93 L450.35 275.53" stroke="#50a188"/><path d="M450.35 275.53 L444.86 270.31" stroke="#38715f"/><path d="M459.60 305.70 L459.14 277.25" stroke="#64a3af"/><path d="M459.14 277.25 L453.60 272.42" stroke="#46727a"/><path d="M472.10 303.93 L471.75 279.77" stroke="#67a3b5"/><path d="M471.75 279.77 L466.15 275.69" stroke="#48727f"/><path d="M476.50 303.31 L476.18 280.65" stroke="#59a29c"/><path d="M476.18 280.65 L470.56 276.63" stroke="#3e716d"/><path d="M483.75 302.29 L483.47 281.26" stroke="#46a077"/><path d="M483.47 281.26 L477.82 277.28" stroke="#317053"/><path d="M490.50 301.33 L490.26 281.60" stroke="#359f58"/><path d="M490.26 281.60 L484.57 277.64" stroke="#256f3d"/><path d="M512.10 298.28 L511.94 281.82" stroke="#389f62"/><path d="M511.94 281.82 L506.15 278.10" stroke="#276f45"/><path d="M525.50 296.38 L525.40 283.46" stroke="#50a195"/><path d="M525.40 283.46 L519.54 279.31" stroke="#387168"/><path d="M528.75 295.92 L528.66 284.37" stroke="#64a3b5"/><path d="M528.66 284.37 L522.79 280.13" stroke="#46727f"/><path d="M538.40 294.56 L538.35 286.83" stroke="#64a3af"/><path d="M538.35 286.83 L532.43 283.10" stroke="#46727a"/><path d="M541.50 294.12 L541.46 287.67" stroke="#50a288"/><path d="M541.46 287.67 L535.53 283.68" stroke="#38715f"/><path d="M547.10 293.32 L547.07 288.09" stroke="#34a051"/><path d="M547.07 288.09 L541.11 283.99" stroke="#247039"/><path d="M554.60 292.26 L554.58 287.51" stroke="#18a025"/><path d="M554.58 287.51 L548.58 283.68" stroke="#11701a"/><path d="M559.60 291.56 L559.58 286.69" stroke="#159e1e"/><path d="M559.58 286.69 L553.56 283.07" stroke="#0f6f15"/><path d="M567.10 290.49 L567.09 285.08" stroke="#2e9d2c"/><path d="M567.09 285.08 L561.03 281.26" stroke="#206e1e"/><path d="M572.75 289.70 L572.74 283.31" stroke="#569f40"/><path d="M572.74 283.31 L566.65 279.33" stroke="#3c6f2d"/><path d="M580.25 288.63 L580.24 280.34" stroke="#8da262"/><path d="M580.24 280.34 L574.12 276.27" stroke="#637145"/><path d="M588.75 287.43 L588.75 276.03" stroke="#8da262"/><path d="M588.75 276.03 L582.59 272.02" stroke="#637145"/><path d="M596.50 286.34 L596.52 272.86" stroke="#599f44"/><path d="M596.52 272.86 L590.31 268.62" stroke="#3e6f2f"/><path d="M604.00 285.27 L604.03 270.86" stroke="#379d33"/><path d="M604.03 270.86 L597.79 266.48" stroke="#266e23"/><path d="M612.10 284.13 L612.15 269.13" stroke="#1e9d22"/><path d="M612.15 269.13 L605.87 264.54" stroke="#156e17"/><path d="M631.50 281.38 L631.60 264.65" stroke="#0c9b11"/><path d="M631.60 264.65 L625.22 260.87" stroke="#086d0b"/><path d="M689.00 273.25 L689.22 256.44" stroke="#0a9b12"/><path d="M689.22 256.44 L682.56 252.12" stroke="#076d0d"/><path d="M708.75 270.46 L709.02 253.16" stroke="#159d1e"/><path d="M709.02 253.16 L702.27 248.59" stroke="#0f6e15"/><path d="M716.75 269.32 L717.05 251.62" stroke="#239d2a"/><path d="M717.05 251.62 L710.25 246.94" stroke="#186e1d"/><path d="M725.25 268.12 L725.58 249.76" stroke="#379e36"/><path d="M725.58 249.76 L718.74 245.09" stroke="#266f26"/><path d="M730.00 267.45 L730.36 247.90" stroke="#56a147"/><path d="M730.36 247.90 L723.50 243.75" stroke="#3c7131"/><path d="M737.10 266.44 L737.52 244.93" stroke="#8aa35f"/><path d="M737.52 244.93 L730.62 241.12" stroke="#617242"/><path d="M750.90 264.49 L751.51 235.62" stroke="#afa466"/><path d="M751.51 235.62 L744.55 233.06" stroke="#7a7347"/><path d="M754.00 264.05 L754.67 232.97" stroke="#b4a655"/><path d="M754.67 232.97 L747.69 230.32" stroke="#7e743b"/><path d="M758.75 263.38 L759.53 228.28" stroke="#b8a73d"/><path d="M759.53 228.28 L752.53 225.78" stroke="#80752a"/><path d="M766.50 262.29 L767.48 219.80" stroke="#bba825"/><path d="M767.48 219.80 L760.44 217.51" stroke="#83751a"/><path d="M773.00 261.37 L774.17 212.42" stroke="#bea412"/><path d="M774.17 212.42 L767.10 209.03" stroke="#85730d"/><path d="M779.00 260.52 L780.41 203.55" stroke="#bea30f"/><path d="M780.41 203.55 L773.31 201.23" stroke="#85720a"/><path d="M781.50 260.16 L783.00 200.28" stroke="#bea514"/><path d="M783.00 200.28 L775.88 198.15" stroke="#85730e"/><path d="M783.40 259.89 L784.96 198.14" stroke="#bea514"/><path d="M784.96 198.14 L777.84 196.00" stroke="#85730e"/><path d="M785.25 259.63 L786.87 196.24" stroke="#bda623"/><path d="M786.87 196.24 L779.73 194.05" stroke="#847418"/><path d="M792.10 258.66 L793.89 190.86" stroke="#afa656"/><path d="M793.89 190.86 L786.72 187.97" stroke="#7a743c"/><path d="M798.40 257.77 L800.30 187.86" stroke="#67a158"/><path d="M800.30 187.86 L793.10 185.04" stroke="#48713d"/><path d="M800.90 257.42 L802.83 187.23" stroke="#1b9b28"/><path d="M802.83 187.23 L795.62 184.41" stroke="#136d1c"/><path d="M804.00 256.98 L805.96 186.84" stroke="#159b22"/><path d="M805.96 186.84 L798.73 183.92" stroke="#0f6d17"/><path d="M808.40 256.36 L810.38 186.78" stroke="#319e51"/><path d="M810.38 186.78 L803.13 183.97" stroke="#226f39"/><path d="M810.25 256.10 L812.23 187.31" stroke="#56a18e"/><path d="M812.23 187.31 L804.97 184.05" stroke="#3c7163"/><path d="M812.75 255.74 L814.71 188.20" stroke="#68a2af"/><path d="M814.71 188.20 L807.44 184.48" stroke="#49717a"/><path d="M823.40 254.24 L825.29 192.03" stroke="#68a2bb"/><path d="M825.29 192.03 L817.97 188.44" stroke="#497182"/><path d="M835.25 252.56 L837.06 195.90" stroke="#65a2b9"/><path d="M837.06 195.90 L829.68 192.37" stroke="#477181"/><path d="M844.60 251.24 L846.34 198.78" stroke="#65a2b0"/><path d="M846.34 198.78 L838.91 195.35" stroke="#47717b"/><path d="M850.90 250.34 L852.60 200.31" stroke="#56a18b"/><path d="M852.60 200.31 L845.14 196.91" stroke="#3c7161"/><path d="M858.40 249.28 L860.09 200.80" stroke="#319e4e"/><path d="M860.09 200.80 L852.60 197.99" stroke="#226f36"/><path d="M867.10 248.05 L868.81 200.57" stroke="#159b25"/><path d="M868.81 200.57 L861.27 197.09" stroke="#0f6d1a"/><path d="M876.50 246.72 L878.28 198.80" stroke="#189b25"/><path d="M878.28 198.80 L870.70 196.01" stroke="#116d1a"/><path d="M881.50 246.00 L883.32 197.76" stroke="#319e36"/><path d="M883.32 197.76 L875.72 194.46" stroke="#226f26"/><path d="M885.25 245.42 L887.12 196.69" stroke="#50a147"/><path d="M887.12 196.69 L879.49 193.19" stroke="#387131"/><path d="M890.90 244.55 L892.87 194.15" stroke="#84a466"/><path d="M892.87 194.15 L885.21 191.04" stroke="#5c7247"/><path d="M896.25 243.73 L898.33 191.44" stroke="#a9a477"/><path d="M898.33 191.44 L890.64 188.41" stroke="#767353"/><path d="M899.60 243.21 L901.74 189.99" stroke="#9aa46c"/><path d="M901.74 189.99 L894.04 186.66" stroke="#6b724c"/><path d="M905.25 242.34 L907.50 187.13" stroke="#6ea255"/><path d="M907.50 187.13 L899.78 184.25" stroke="#4d713b"/><path d="M915.25 240.80 L917.67 183.40" stroke="#62a14a"/><path d="M917.67 183.40 L909.89 180.73" stroke="#447134"/><path d="M918.00 240.38 L920.48 182.06" stroke="#8da45f"/><path d="M920.48 182.06 L912.69 179.80" stroke="#637242"/><path d="M920.90 239.93 L923.45 180.39" stroke="#afa55f"/><path d="M923.45 180.39 L915.65 177.95" stroke="#7a7342"/><path d="M929.00 238.68 L931.82 174.49" stroke="#afa562"/><path d="M931.82 174.49 L923.97 171.17" stroke="#7a7345"/><path d="M933.40 238.01 L936.38 170.88" stroke="#8aa462"/><path d="M936.38 170.88 L928.51 168.59" stroke="#617245"/><path d="M940.25 236.95 L943.38 167.91" stroke="#42a03b"/><path d="M943.38 167.91 L935.48 165.29" stroke="#2e7029"/><path d="M943.40 236.51 L946.54 167.69" stroke="#159b1e"/><path d="M946.54 167.69 L938.63 164.90" stroke="#0f6d15"/><path d="M946.50 236.07 L949.65 167.60" stroke="#1d9d31"/><path d="M949.65 167.60 L941.72 164.81" stroke="#146e22"/><path d="M954.00 235.01 L957.17 167.59" stroke="#239e38"/><path d="M957.17 167.59 L949.20 165.24" stroke="#186f27"/><path d="M957.00 234.58 L960.19 167.25" stroke="#159b1e"/><path d="M960.19 167.25 L952.21 164.94" stroke="#0f6d15"/><path d="M960.90 234.03 L964.14 166.33" stroke="#2c9d2d"/><path d="M964.14 166.33 L956.14 164.09" stroke="#1f6e20"/><path d="M962.50 233.81 L965.78 165.62" stroke="#62a14e"/><path d="M965.78 165.62 L957.77 163.36" stroke="#447136"/><path d="M964.00 233.59 L967.32 164.82" stroke="#93a462"/><path d="M967.32 164.82 L959.30 162.54" stroke="#677245"/><path d="M968.40 232.97 L971.88 161.70" stroke="#afa55f"/><path d="M971.88 161.70 L963.84 159.62" stroke="#7a7342"/><path d="M971.50 232.53 L975.14 158.71" stroke="#b4a544"/><path d="M975.14 158.71 L967.08 156.82" stroke="#7e732f"/><path d="M974.00 232.18 L977.79 155.75" stroke="#b7a52f"/><path d="M977.79 155.75 L969.72 153.94" stroke="#807321"/><path d="M977.10 231.74 L981.11 151.51" stroke="#bba517"/><path d="M981.11 151.51 L973.02 149.07" stroke="#837310"/><path d="M979.60 231.39 L983.79 148.13" stroke="#be9e06"/><path d="M983.79 148.13 L975.69 145.57" stroke="#856f04"/></g>
<g font-family="'Liberation Sans',sans-serif" font-size="11.5" text-anchor="middle" fill="#000" stroke="#000" stroke-width="0.2"><text x="32.2" y="385.3">0km</text><text x="97.0" y="375.8">0.1km</text><text x="160.0" y="366.9">0.2km</text><text x="220.8" y="358.3">0.3km</text><text x="280.8" y="349.8">0.4km</text><text x="338.8" y="341.6">0.5km</text><text x="395.0" y="333.6">0.6km</text><text x="451.2" y="325.7">0.7km</text><text x="505.0" y="318.1">0.8km</text><text x="558.0" y="310.6">0.9km</text><text x="609.5" y="303.3">1km</text><text x="660.0" y="296.2">1.1km</text><text x="709.2" y="289.2">1.2km</text><text x="758.0" y="282.3">1.3km</text><text x="804.5" y="275.7">1.4km</text><text x="850.8" y="269.2">1.5km</text><text x="895.8" y="262.8">1.6km</text><text x="940.4" y="256.5">1.7km</text><text x="983.1" y="249.5">1.8km</text></g>
</svg>
<div id="title">Elland CX lap 2013</div>
<div id="stat">1.8 km at 0%</div>
<div id="legend"></div>
<div class="lg" style="top:368.5px">25%</div>
<div class="lg" style="top:406.5px">10%</div>
<div class="lg" style="top:432.5px">0%</div>
<div class="lg" style="top:457.5px">-10%</div>
<div class="lg" style="top:496.5px">-25%</div>
<div id="vv"><span style="margin-left:3.20px;transform:scaleX(1.000)">v</span><span style="margin-left:-11.13px;transform:scaleX(0.903)">e</span><span style="margin-left:-11.11px;transform:scaleX(1.091)">l</span><span style="margin-left:-7.91px;transform:scaleX(0.968)">o</span><span style="margin-left:-12.94px;transform:scaleX(0.937);color:#fc0a37">v</span><span style="margin-left:-9.57px;transform:scaleX(1.136);color:#fc0a37">i</span><span style="margin-left:-5.98px;transform:scaleX(0.897);color:#fc0a37">e</span><span style="margin-left:-10.92px;transform:scaleX(1.125);color:#fc0a37">w</span><span style="margin-left:-7.16px;transform:scaleX(0.875);color:#fc0a37">e</span><span style="margin-left:-9.78px;transform:scaleX(0.648);color:#fc0a37">r</span></div>
<div style="position:absolute;left:141px;top:452px;width:17px;height:14.6px;background:#fff"></div>
<div style="position:absolute;left:143.2px;top:455.2px;width:12.2px;height:12.2px;border-radius:50%;background:#fc0a37"></div>
<div id="pb">POWERED BY</div>
<div id="st">STRAVA</div>
<svg style="position:absolute;left:0;top:0" width="1024" height="512" viewBox="0 0 1024 512"><polygon points="365.0,494.2 368.0,494.2 369.6,498.7 362.8,498.7" fill="#fff"/><polygon points="397.0,494.2 400.0,494.2 401.6,498.7 395.4,498.7" fill="#fff"/></svg>
</body></html>
